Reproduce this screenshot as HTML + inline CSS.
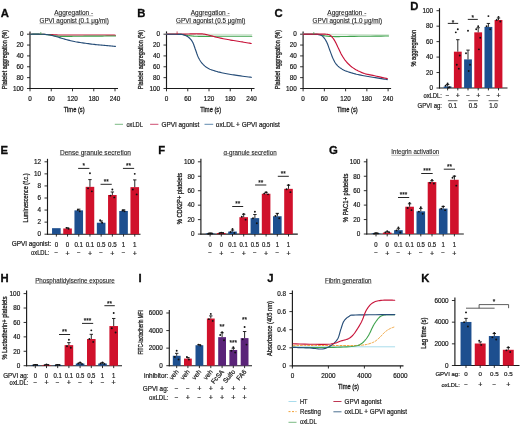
<!DOCTYPE html>
<html><head><meta charset="utf-8"><style>
html,body{margin:0;padding:0;background:#fff;}
svg{display:block;will-change:transform;}
text{font-family:"Liberation Sans", sans-serif;stroke:#1a1a1a;stroke-width:0.2px;}
</style></head><body>
<svg width="520" height="426" viewBox="0 0 520 426">
<rect x="0" y="0" width="520" height="426" fill="#fff"/>
<text x="0.73" y="17.20" font-size="11.3" text-anchor="start" font-weight="bold" fill="#0d0d0d" style="stroke-width:0.3px;stroke:#0d0d0d">A</text>
<text x="73.70" y="14.90" font-size="6.3" text-anchor="middle" textLength="39.00" lengthAdjust="spacingAndGlyphs" fill="#222" style="stroke-width:0.1px">Aggregation -</text>
<line x1="54.20" y1="15.75" x2="93.20" y2="15.75" stroke="#777" stroke-width="0.55"/>
<text x="74.20" y="22.80" font-size="6.3" text-anchor="middle" textLength="69.40" lengthAdjust="spacingAndGlyphs" fill="#222" style="stroke-width:0.1px">GPVI agonist (0.1 μg/ml)</text>
<line x1="39.50" y1="23.65" x2="108.90" y2="23.65" stroke="#777" stroke-width="0.55"/>
<line x1="30.00" y1="31.40" x2="30.00" y2="88.95" stroke="#1a1a1a" stroke-width="1.15"/>
<line x1="29.50" y1="88.50" x2="118.00" y2="88.50" stroke="#1a1a1a" stroke-width="1.15"/>
<line x1="27.00" y1="34.20" x2="30.00" y2="34.20" stroke="#1a1a1a" stroke-width="0.9"/>
<text x="23.60" y="36.47" font-size="6.35" text-anchor="end" fill="#1a1a1a">0</text>
<line x1="27.00" y1="45.06" x2="30.00" y2="45.06" stroke="#1a1a1a" stroke-width="0.9"/>
<text x="23.60" y="47.33" font-size="6.35" text-anchor="end" fill="#1a1a1a">20</text>
<line x1="27.00" y1="55.92" x2="30.00" y2="55.92" stroke="#1a1a1a" stroke-width="0.9"/>
<text x="23.60" y="58.19" font-size="6.35" text-anchor="end" fill="#1a1a1a">40</text>
<line x1="27.00" y1="66.78" x2="30.00" y2="66.78" stroke="#1a1a1a" stroke-width="0.9"/>
<text x="23.60" y="69.05" font-size="6.35" text-anchor="end" fill="#1a1a1a">60</text>
<line x1="27.00" y1="77.64" x2="30.00" y2="77.64" stroke="#1a1a1a" stroke-width="0.9"/>
<text x="23.60" y="79.91" font-size="6.35" text-anchor="end" fill="#1a1a1a">80</text>
<line x1="27.00" y1="88.50" x2="30.00" y2="88.50" stroke="#1a1a1a" stroke-width="0.9"/>
<text x="23.60" y="90.77" font-size="6.35" text-anchor="end" fill="#1a1a1a">100</text>
<line x1="30.00" y1="88.50" x2="30.00" y2="91.30" stroke="#1a1a1a" stroke-width="0.9"/>
<text x="30.00" y="100.57" font-size="6.35" text-anchor="middle" fill="#1a1a1a">0</text>
<line x1="51.25" y1="88.50" x2="51.25" y2="91.30" stroke="#1a1a1a" stroke-width="0.9"/>
<text x="51.25" y="100.57" font-size="6.35" text-anchor="middle" fill="#1a1a1a">60</text>
<line x1="72.50" y1="88.50" x2="72.50" y2="91.30" stroke="#1a1a1a" stroke-width="0.9"/>
<text x="72.50" y="100.57" font-size="6.35" text-anchor="middle" fill="#1a1a1a">120</text>
<line x1="93.75" y1="88.50" x2="93.75" y2="91.30" stroke="#1a1a1a" stroke-width="0.9"/>
<text x="93.75" y="100.57" font-size="6.35" text-anchor="middle" fill="#1a1a1a">180</text>
<line x1="115.00" y1="88.50" x2="115.00" y2="91.30" stroke="#1a1a1a" stroke-width="0.9"/>
<text x="115.00" y="100.57" font-size="6.35" text-anchor="middle" fill="#1a1a1a">240</text>
<text x="74.20" y="111.50" font-size="7.4" text-anchor="middle" textLength="20.80" lengthAdjust="spacingAndGlyphs" fill="#1a1a1a" style="stroke-width:0.3px">Time (s)</text>
<text x="6.80" y="59.60" font-size="7.2" text-anchor="middle" transform="rotate(-90 6.80 59.60)" textLength="59.40" lengthAdjust="spacingAndGlyphs" fill="#1a1a1a" style="stroke-width:0.3px">Platelet aggregation (%)</text>
<text x="137.15" y="17.30" font-size="11.3" text-anchor="start" font-weight="bold" fill="#0d0d0d" style="stroke-width:0.3px;stroke:#0d0d0d">B</text>
<text x="210.20" y="14.90" font-size="6.3" text-anchor="middle" textLength="39.00" lengthAdjust="spacingAndGlyphs" fill="#222" style="stroke-width:0.1px">Aggregation -</text>
<line x1="190.70" y1="15.75" x2="229.70" y2="15.75" stroke="#777" stroke-width="0.55"/>
<text x="210.70" y="22.80" font-size="6.3" text-anchor="middle" textLength="69.40" lengthAdjust="spacingAndGlyphs" fill="#222" style="stroke-width:0.1px">GPVI agonist (0.5 μg/ml)</text>
<line x1="176.00" y1="23.65" x2="245.40" y2="23.65" stroke="#777" stroke-width="0.55"/>
<line x1="166.50" y1="31.40" x2="166.50" y2="88.95" stroke="#1a1a1a" stroke-width="1.15"/>
<line x1="166.00" y1="88.50" x2="254.50" y2="88.50" stroke="#1a1a1a" stroke-width="1.15"/>
<line x1="163.50" y1="34.20" x2="166.50" y2="34.20" stroke="#1a1a1a" stroke-width="0.9"/>
<text x="160.10" y="36.47" font-size="6.35" text-anchor="end" fill="#1a1a1a">0</text>
<line x1="163.50" y1="45.06" x2="166.50" y2="45.06" stroke="#1a1a1a" stroke-width="0.9"/>
<text x="160.10" y="47.33" font-size="6.35" text-anchor="end" fill="#1a1a1a">20</text>
<line x1="163.50" y1="55.92" x2="166.50" y2="55.92" stroke="#1a1a1a" stroke-width="0.9"/>
<text x="160.10" y="58.19" font-size="6.35" text-anchor="end" fill="#1a1a1a">40</text>
<line x1="163.50" y1="66.78" x2="166.50" y2="66.78" stroke="#1a1a1a" stroke-width="0.9"/>
<text x="160.10" y="69.05" font-size="6.35" text-anchor="end" fill="#1a1a1a">60</text>
<line x1="163.50" y1="77.64" x2="166.50" y2="77.64" stroke="#1a1a1a" stroke-width="0.9"/>
<text x="160.10" y="79.91" font-size="6.35" text-anchor="end" fill="#1a1a1a">80</text>
<line x1="163.50" y1="88.50" x2="166.50" y2="88.50" stroke="#1a1a1a" stroke-width="0.9"/>
<text x="160.10" y="90.77" font-size="6.35" text-anchor="end" fill="#1a1a1a">100</text>
<line x1="166.50" y1="88.50" x2="166.50" y2="91.30" stroke="#1a1a1a" stroke-width="0.9"/>
<text x="166.50" y="100.57" font-size="6.35" text-anchor="middle" fill="#1a1a1a">0</text>
<line x1="187.75" y1="88.50" x2="187.75" y2="91.30" stroke="#1a1a1a" stroke-width="0.9"/>
<text x="187.75" y="100.57" font-size="6.35" text-anchor="middle" fill="#1a1a1a">60</text>
<line x1="209.00" y1="88.50" x2="209.00" y2="91.30" stroke="#1a1a1a" stroke-width="0.9"/>
<text x="209.00" y="100.57" font-size="6.35" text-anchor="middle" fill="#1a1a1a">120</text>
<line x1="230.25" y1="88.50" x2="230.25" y2="91.30" stroke="#1a1a1a" stroke-width="0.9"/>
<text x="230.25" y="100.57" font-size="6.35" text-anchor="middle" fill="#1a1a1a">180</text>
<line x1="251.50" y1="88.50" x2="251.50" y2="91.30" stroke="#1a1a1a" stroke-width="0.9"/>
<text x="251.50" y="100.57" font-size="6.35" text-anchor="middle" fill="#1a1a1a">240</text>
<text x="210.70" y="111.50" font-size="7.4" text-anchor="middle" textLength="20.80" lengthAdjust="spacingAndGlyphs" fill="#1a1a1a" style="stroke-width:0.3px">Time (s)</text>
<text x="143.30" y="59.60" font-size="7.2" text-anchor="middle" transform="rotate(-90 143.30 59.60)" textLength="59.40" lengthAdjust="spacingAndGlyphs" fill="#1a1a1a" style="stroke-width:0.3px">Platelet aggregation (%)</text>
<text x="274.60" y="17.20" font-size="11.3" text-anchor="start" font-weight="bold" fill="#0d0d0d" style="stroke-width:0.3px;stroke:#0d0d0d">C</text>
<text x="346.80" y="14.90" font-size="6.3" text-anchor="middle" textLength="39.00" lengthAdjust="spacingAndGlyphs" fill="#222" style="stroke-width:0.1px">Aggregation -</text>
<line x1="327.30" y1="15.75" x2="366.30" y2="15.75" stroke="#777" stroke-width="0.55"/>
<text x="347.30" y="22.80" font-size="6.3" text-anchor="middle" textLength="69.40" lengthAdjust="spacingAndGlyphs" fill="#222" style="stroke-width:0.1px">GPVI agonist (1.0 μg/ml)</text>
<line x1="312.60" y1="23.65" x2="382.00" y2="23.65" stroke="#777" stroke-width="0.55"/>
<line x1="303.10" y1="31.40" x2="303.10" y2="88.95" stroke="#1a1a1a" stroke-width="1.15"/>
<line x1="302.60" y1="88.50" x2="391.10" y2="88.50" stroke="#1a1a1a" stroke-width="1.15"/>
<line x1="300.10" y1="34.20" x2="303.10" y2="34.20" stroke="#1a1a1a" stroke-width="0.9"/>
<text x="296.70" y="36.47" font-size="6.35" text-anchor="end" fill="#1a1a1a">0</text>
<line x1="300.10" y1="45.06" x2="303.10" y2="45.06" stroke="#1a1a1a" stroke-width="0.9"/>
<text x="296.70" y="47.33" font-size="6.35" text-anchor="end" fill="#1a1a1a">20</text>
<line x1="300.10" y1="55.92" x2="303.10" y2="55.92" stroke="#1a1a1a" stroke-width="0.9"/>
<text x="296.70" y="58.19" font-size="6.35" text-anchor="end" fill="#1a1a1a">40</text>
<line x1="300.10" y1="66.78" x2="303.10" y2="66.78" stroke="#1a1a1a" stroke-width="0.9"/>
<text x="296.70" y="69.05" font-size="6.35" text-anchor="end" fill="#1a1a1a">60</text>
<line x1="300.10" y1="77.64" x2="303.10" y2="77.64" stroke="#1a1a1a" stroke-width="0.9"/>
<text x="296.70" y="79.91" font-size="6.35" text-anchor="end" fill="#1a1a1a">80</text>
<line x1="300.10" y1="88.50" x2="303.10" y2="88.50" stroke="#1a1a1a" stroke-width="0.9"/>
<text x="296.70" y="90.77" font-size="6.35" text-anchor="end" fill="#1a1a1a">100</text>
<line x1="303.10" y1="88.50" x2="303.10" y2="91.30" stroke="#1a1a1a" stroke-width="0.9"/>
<text x="303.10" y="100.57" font-size="6.35" text-anchor="middle" fill="#1a1a1a">0</text>
<line x1="324.35" y1="88.50" x2="324.35" y2="91.30" stroke="#1a1a1a" stroke-width="0.9"/>
<text x="324.35" y="100.57" font-size="6.35" text-anchor="middle" fill="#1a1a1a">60</text>
<line x1="345.60" y1="88.50" x2="345.60" y2="91.30" stroke="#1a1a1a" stroke-width="0.9"/>
<text x="345.60" y="100.57" font-size="6.35" text-anchor="middle" fill="#1a1a1a">120</text>
<line x1="366.85" y1="88.50" x2="366.85" y2="91.30" stroke="#1a1a1a" stroke-width="0.9"/>
<text x="366.85" y="100.57" font-size="6.35" text-anchor="middle" fill="#1a1a1a">180</text>
<line x1="388.10" y1="88.50" x2="388.10" y2="91.30" stroke="#1a1a1a" stroke-width="0.9"/>
<text x="388.10" y="100.57" font-size="6.35" text-anchor="middle" fill="#1a1a1a">240</text>
<text x="347.30" y="111.50" font-size="7.4" text-anchor="middle" textLength="20.80" lengthAdjust="spacingAndGlyphs" fill="#1a1a1a" style="stroke-width:0.3px">Time (s)</text>
<text x="279.90" y="59.60" font-size="7.2" text-anchor="middle" transform="rotate(-90 279.90 59.60)" textLength="59.40" lengthAdjust="spacingAndGlyphs" fill="#1a1a1a" style="stroke-width:0.3px">Platelet aggregation (%)</text>
<path d="M30.00,34.20 L31.43,34.22 L33.38,34.25 L35.70,34.28 L38.25,34.32 L40.90,34.36 L43.50,34.40 L45.91,34.45 L48.00,34.50 L49.73,34.56 L51.23,34.62 L52.59,34.69 L53.88,34.77 L55.18,34.84 L56.58,34.91 L58.16,34.96 L60.00,35.00 L62.12,35.02 L64.44,35.04 L66.91,35.04 L69.50,35.03 L72.15,35.02 L74.81,35.01 L77.45,35.00 L80.00,35.00 L82.53,35.00 L85.11,35.00 L87.70,34.99 L90.28,34.99 L92.83,34.99 L95.32,34.99 L97.72,34.99 L100.00,35.00 L102.26,35.02 L104.55,35.04 L106.82,35.07 L109.00,35.10 L111.02,35.13 L112.82,35.16 L114.33,35.18 L115.50,35.20" fill="none" stroke="#c8143a" stroke-width="1.15" stroke-linejoin="round" stroke-linecap="round"/>
<path d="M30.00,34.20 L30.80,34.20 L31.89,34.19 L33.18,34.17 L34.61,34.16 L36.10,34.16 L37.58,34.16 L38.97,34.17 L40.20,34.20 L41.29,34.24 L42.31,34.29 L43.29,34.35 L44.24,34.42 L45.17,34.50 L46.09,34.59 L47.03,34.69 L48.00,34.80 L48.99,34.93 L49.99,35.08 L50.99,35.24 L51.99,35.41 L52.99,35.58 L54.00,35.74 L55.00,35.88 L56.00,36.00 L56.95,36.09 L57.81,36.17 L58.65,36.23 L59.50,36.29 L60.41,36.33 L61.44,36.36 L62.62,36.38 L64.00,36.40 L65.59,36.40 L67.34,36.39 L69.24,36.36 L71.25,36.33 L73.36,36.29 L75.53,36.26 L77.75,36.22 L80.00,36.20 L82.34,36.18 L84.82,36.17 L87.40,36.16 L90.03,36.14 L92.65,36.13 L95.22,36.12 L97.69,36.11 L100.00,36.10 L102.26,36.09 L104.55,36.07 L106.82,36.06 L109.00,36.04 L111.02,36.03 L112.82,36.02 L114.33,36.01 L115.50,36.00" fill="none" stroke="#3fa34d" stroke-width="1.1" stroke-linejoin="round" stroke-linecap="round"/>
<path d="M30.00,34.20 L30.80,34.20 L31.89,34.19 L33.18,34.18 L34.61,34.17 L36.10,34.16 L37.57,34.16 L38.97,34.18 L40.20,34.20 L41.30,34.23 L42.34,34.26 L43.34,34.29 L44.31,34.34 L45.25,34.40 L46.19,34.47 L47.14,34.57 L48.10,34.70 L49.07,34.86 L50.04,35.05 L51.00,35.26 L51.96,35.49 L52.92,35.73 L53.88,35.98 L54.84,36.24 L55.80,36.50 L56.75,36.76 L57.68,37.04 L58.60,37.32 L59.53,37.61 L60.47,37.90 L61.44,38.20 L62.45,38.50 L63.50,38.80 L64.61,39.11 L65.77,39.43 L66.96,39.76 L68.18,40.09 L69.42,40.42 L70.66,40.73 L71.89,41.03 L73.10,41.30 L74.29,41.54 L75.46,41.77 L76.62,41.97 L77.78,42.16 L78.96,42.35 L80.17,42.53 L81.41,42.71 L82.70,42.90 L84.05,43.10 L85.44,43.29 L86.87,43.49 L88.33,43.68 L89.80,43.87 L91.27,44.06 L92.74,44.23 L94.20,44.40 L95.66,44.56 L97.14,44.71 L98.63,44.85 L100.12,44.99 L101.59,45.12 L103.04,45.25 L104.45,45.37 L105.80,45.50 L107.16,45.63 L108.57,45.76 L109.97,45.89 L111.32,46.02 L112.59,46.14 L113.72,46.24 L114.67,46.33 L115.40,46.40" fill="none" stroke="#264d78" stroke-width="1.15" stroke-linejoin="round" stroke-linecap="round"/>
<line x1="40.80" y1="32.00" x2="40.80" y2="34.40" stroke="#3fa34d" stroke-width="0.7"/>
<path d="M166.50,34.20 L251.80,34.60" fill="none" stroke="#d3e6d3" stroke-width="1.2" stroke-linejoin="round" stroke-linecap="round"/>
<path d="M166.50,34.20 L167.34,34.21 L168.49,34.21 L169.87,34.22 L171.38,34.23 L172.93,34.24 L174.45,34.26 L175.83,34.28 L177.00,34.30 L177.96,34.32 L178.79,34.34 L179.54,34.36 L180.22,34.38 L180.87,34.41 L181.54,34.46 L182.23,34.52 L183.00,34.60 L183.81,34.71 L184.61,34.85 L185.42,35.01 L186.25,35.18 L187.11,35.35 L188.02,35.52 L188.97,35.67 L190.00,35.80 L191.07,35.91 L192.17,36.01 L193.31,36.10 L194.50,36.18 L195.75,36.25 L197.08,36.31 L198.49,36.36 L200.00,36.40 L201.49,36.42 L202.89,36.42 L204.30,36.41 L205.83,36.39 L207.56,36.36 L209.60,36.33 L212.05,36.31 L215.00,36.30 L218.81,36.30 L223.53,36.29 L228.82,36.29 L234.34,36.29 L239.74,36.30 L244.68,36.30 L248.81,36.30 L251.80,36.30" fill="none" stroke="#3fa34d" stroke-width="1.1" stroke-linejoin="round" stroke-linecap="round"/>
<path d="M166.50,34.20 L167.80,34.19 L169.56,34.19 L171.65,34.18 L173.96,34.17 L176.38,34.16 L178.79,34.14 L181.06,34.12 L183.10,34.10 L184.98,34.07 L186.84,34.03 L188.66,33.98 L190.43,33.93 L192.12,33.88 L193.71,33.84 L195.18,33.81 L196.50,33.80 L197.65,33.80 L198.64,33.80 L199.50,33.80 L200.27,33.82 L200.97,33.84 L201.64,33.88 L202.30,33.93 L203.00,34.00 L203.67,34.08 L204.27,34.16 L204.82,34.25 L205.36,34.36 L205.92,34.48 L206.54,34.63 L207.26,34.80 L208.10,35.00 L209.07,35.24 L210.14,35.52 L211.29,35.84 L212.50,36.17 L213.76,36.51 L215.06,36.85 L216.38,37.19 L217.70,37.50 L219.05,37.80 L220.44,38.10 L221.87,38.39 L223.32,38.69 L224.80,38.98 L226.27,39.26 L227.74,39.53 L229.20,39.80 L230.65,40.06 L232.12,40.31 L233.59,40.55 L235.06,40.78 L236.53,41.01 L237.97,41.24 L239.40,41.47 L240.80,41.70 L242.24,41.94 L243.75,42.20 L245.28,42.46 L246.78,42.72 L248.18,42.96 L249.44,43.18 L250.50,43.36 L251.30,43.50" fill="none" stroke="#c8143a" stroke-width="1.15" stroke-linejoin="round" stroke-linecap="round"/>
<path d="M166.50,34.20 L167.34,34.21 L168.49,34.21 L169.86,34.22 L171.37,34.23 L172.92,34.24 L174.44,34.25 L175.83,34.27 L177.00,34.30 L177.98,34.32 L178.84,34.32 L179.63,34.32 L180.35,34.33 L181.04,34.36 L181.71,34.42 L182.39,34.53 L183.10,34.70 L183.84,34.92 L184.60,35.18 L185.35,35.49 L186.09,35.83 L186.81,36.20 L187.51,36.60 L188.18,37.04 L188.80,37.50 L189.38,37.98 L189.92,38.49 L190.44,39.03 L190.93,39.59 L191.39,40.20 L191.84,40.85 L192.27,41.55 L192.70,42.30 L193.11,43.12 L193.50,44.02 L193.86,44.98 L194.21,45.97 L194.56,46.99 L194.90,48.01 L195.24,49.02 L195.60,50.00 L195.96,50.98 L196.30,51.97 L196.65,52.97 L196.99,53.97 L197.35,54.95 L197.71,55.91 L198.09,56.83 L198.50,57.70 L198.92,58.52 L199.34,59.31 L199.77,60.06 L200.22,60.78 L200.69,61.48 L201.19,62.16 L201.72,62.84 L202.30,63.50 L202.92,64.16 L203.56,64.81 L204.25,65.46 L204.96,66.08 L205.70,66.68 L206.47,67.26 L207.27,67.80 L208.10,68.30 L208.96,68.76 L209.85,69.17 L210.76,69.55 L211.71,69.91 L212.69,70.24 L213.70,70.56 L214.73,70.88 L215.80,71.20 L216.90,71.52 L218.02,71.83 L219.18,72.12 L220.36,72.41 L221.58,72.69 L222.82,72.97 L224.10,73.24 L225.40,73.50 L226.73,73.76 L228.07,74.00 L229.45,74.24 L230.85,74.48 L232.29,74.71 L233.78,74.93 L235.31,75.17 L236.90,75.40 L238.66,75.65 L240.63,75.92 L242.72,76.20 L244.82,76.47 L246.83,76.73 L248.64,76.96 L250.17,77.15 L251.30,77.30" fill="none" stroke="#264d78" stroke-width="1.15" stroke-linejoin="round" stroke-linecap="round"/>
<line x1="177.10" y1="31.40" x2="177.10" y2="34.40" stroke="#d0112b" stroke-width="0.7"/>
<path d="M303.10,34.20 L388.50,35.00" fill="none" stroke="#d3e6d3" stroke-width="1.5" stroke-linejoin="round" stroke-linecap="round"/>
<path d="M303.10,34.20 L304.30,34.21 L305.94,34.20 L307.90,34.20 L310.05,34.20 L312.26,34.21 L314.41,34.25 L316.37,34.31 L318.00,34.40 L319.32,34.54 L320.46,34.73 L321.46,34.94 L322.37,35.17 L323.23,35.41 L324.09,35.64 L325.00,35.84 L326.00,36.00 L327.04,36.13 L328.04,36.24 L329.04,36.33 L330.06,36.41 L331.14,36.48 L332.30,36.53 L333.58,36.57 L335.00,36.60 L336.43,36.61 L337.78,36.61 L339.15,36.59 L340.66,36.56 L342.39,36.52 L344.46,36.48 L346.96,36.44 L350.00,36.40 L353.95,36.36 L358.88,36.30 L364.41,36.25 L370.19,36.19 L375.85,36.13 L381.03,36.08 L385.37,36.03 L388.50,36.00" fill="none" stroke="#3fa34d" stroke-width="1.1" stroke-linejoin="round" stroke-linecap="round"/>
<path d="M303.10,34.20 L303.89,34.21 L304.97,34.21 L306.25,34.22 L307.67,34.23 L309.13,34.24 L310.56,34.25 L311.88,34.27 L313.00,34.30 L313.96,34.33 L314.85,34.35 L315.67,34.37 L316.43,34.39 L317.15,34.43 L317.83,34.49 L318.47,34.58 L319.10,34.70 L319.68,34.83 L320.21,34.96 L320.69,35.10 L321.14,35.26 L321.57,35.47 L322.00,35.74 L322.44,36.07 L322.90,36.50 L323.39,37.02 L323.89,37.62 L324.40,38.30 L324.91,39.03 L325.41,39.81 L325.89,40.62 L326.36,41.46 L326.80,42.30 L327.20,43.16 L327.57,44.05 L327.92,44.96 L328.26,45.91 L328.59,46.89 L328.94,47.90 L329.30,48.93 L329.70,50.00 L330.13,51.14 L330.59,52.36 L331.06,53.63 L331.54,54.92 L332.04,56.19 L332.53,57.42 L333.02,58.57 L333.50,59.60 L333.95,60.51 L334.38,61.34 L334.79,62.10 L335.21,62.80 L335.66,63.47 L336.14,64.11 L336.68,64.75 L337.30,65.40 L337.99,66.06 L338.72,66.71 L339.51,67.34 L340.34,67.96 L341.21,68.55 L342.13,69.13 L343.10,69.68 L344.10,70.20 L345.15,70.69 L346.26,71.15 L347.41,71.58 L348.61,71.99 L349.84,72.39 L351.10,72.77 L352.39,73.14 L353.70,73.50 L355.05,73.85 L356.44,74.20 L357.87,74.52 L359.32,74.84 L360.80,75.14 L362.27,75.44 L363.74,75.72 L365.20,76.00 L366.65,76.27 L368.12,76.52 L369.59,76.77 L371.06,77.00 L372.53,77.23 L373.97,77.45 L375.40,77.68 L376.80,77.90 L378.24,78.13 L379.75,78.38 L381.28,78.63 L382.78,78.87 L384.18,79.10 L385.44,79.30 L386.50,79.47 L387.30,79.60" fill="none" stroke="#264d78" stroke-width="1.15" stroke-linejoin="round" stroke-linecap="round"/>
<path d="M303.10,34.20 L304.29,34.19 L305.92,34.17 L307.86,34.16 L310.00,34.14 L312.20,34.12 L314.35,34.11 L316.33,34.10 L318.00,34.10 L319.43,34.10 L320.75,34.10 L321.97,34.10 L323.09,34.11 L324.13,34.13 L325.09,34.17 L325.98,34.22 L326.80,34.30 L327.51,34.39 L328.10,34.47 L328.59,34.55 L329.01,34.66 L329.39,34.81 L329.76,35.00 L330.15,35.26 L330.60,35.60 L331.08,36.01 L331.57,36.49 L332.06,37.02 L332.55,37.60 L333.04,38.23 L333.53,38.91 L334.02,39.64 L334.50,40.40 L334.98,41.22 L335.45,42.12 L335.93,43.08 L336.40,44.07 L336.87,45.09 L337.35,46.11 L337.82,47.12 L338.30,48.10 L338.78,49.07 L339.25,50.05 L339.72,51.03 L340.19,52.01 L340.67,52.99 L341.16,53.95 L341.67,54.89 L342.20,55.80 L342.74,56.69 L343.29,57.57 L343.85,58.43 L344.43,59.27 L345.02,60.10 L345.65,60.91 L346.30,61.71 L347.00,62.50 L347.73,63.27 L348.47,64.04 L349.25,64.78 L350.05,65.52 L350.89,66.24 L351.78,66.94 L352.71,67.63 L353.70,68.30 L354.76,68.96 L355.90,69.63 L357.09,70.28 L358.32,70.92 L359.57,71.53 L360.83,72.10 L362.08,72.63 L363.30,73.10 L364.47,73.50 L365.59,73.83 L366.69,74.11 L367.80,74.35 L368.95,74.58 L370.16,74.82 L371.47,75.09 L372.90,75.40 L374.57,75.78 L376.50,76.21 L378.58,76.67 L380.70,77.14 L382.74,77.59 L384.60,78.00 L386.16,78.35 L387.30,78.60" fill="none" stroke="#c8143a" stroke-width="1.15" stroke-linejoin="round" stroke-linecap="round"/>
<line x1="313.80" y1="32.00" x2="313.80" y2="34.40" stroke="#3fa34d" stroke-width="0.7"/>
<line x1="114.80" y1="124.30" x2="123.00" y2="124.30" stroke="#6db377" stroke-width="0.9"/>
<text x="126.40" y="126.56" font-size="6.6" text-anchor="start" textLength="16.40" lengthAdjust="spacingAndGlyphs" fill="#1a1a1a">oxLDL</text>
<line x1="150.10" y1="124.30" x2="158.40" y2="124.30" stroke="#c93a62" stroke-width="0.9"/>
<text x="161.40" y="126.56" font-size="6.6" text-anchor="start" textLength="37.80" lengthAdjust="spacingAndGlyphs" fill="#1a1a1a">GPVI agonist</text>
<line x1="204.50" y1="124.30" x2="213.20" y2="124.30" stroke="#4f7ea6" stroke-width="0.9"/>
<text x="215.80" y="126.56" font-size="6.6" text-anchor="start" textLength="64.00" lengthAdjust="spacingAndGlyphs" fill="#1a1a1a">oxLDL + GPVI agonist</text>
<text x="410.25" y="9.50" font-size="11.3" text-anchor="start" font-weight="bold" fill="#0d0d0d" style="stroke-width:0.3px;stroke:#0d0d0d">D</text>
<line x1="439.50" y1="8.20" x2="439.50" y2="88.45" stroke="#1a1a1a" stroke-width="1.15"/>
<line x1="439.00" y1="88.00" x2="507.50" y2="88.00" stroke="#1a1a1a" stroke-width="1.15"/>
<line x1="436.50" y1="88.00" x2="439.50" y2="88.00" stroke="#1a1a1a" stroke-width="0.9"/>
<text x="433.10" y="90.27" font-size="6.35" text-anchor="end" fill="#1a1a1a">0</text>
<line x1="436.50" y1="72.54" x2="439.50" y2="72.54" stroke="#1a1a1a" stroke-width="0.9"/>
<text x="433.10" y="74.81" font-size="6.35" text-anchor="end" fill="#1a1a1a">20</text>
<line x1="436.50" y1="57.08" x2="439.50" y2="57.08" stroke="#1a1a1a" stroke-width="0.9"/>
<text x="433.10" y="59.35" font-size="6.35" text-anchor="end" fill="#1a1a1a">40</text>
<line x1="436.50" y1="41.62" x2="439.50" y2="41.62" stroke="#1a1a1a" stroke-width="0.9"/>
<text x="433.10" y="43.89" font-size="6.35" text-anchor="end" fill="#1a1a1a">60</text>
<line x1="436.50" y1="26.16" x2="439.50" y2="26.16" stroke="#1a1a1a" stroke-width="0.9"/>
<text x="433.10" y="28.43" font-size="6.35" text-anchor="end" fill="#1a1a1a">80</text>
<line x1="436.50" y1="10.70" x2="439.50" y2="10.70" stroke="#1a1a1a" stroke-width="0.9"/>
<text x="433.10" y="12.97" font-size="6.35" text-anchor="end" fill="#1a1a1a">100</text>
<text x="416.00" y="48.25" font-size="7.2" text-anchor="middle" transform="rotate(-90 416.00 48.25)" textLength="36.70" lengthAdjust="spacingAndGlyphs" fill="#1a1a1a" style="stroke-width:0.3px">% aggregation</text>
<rect x="443.70" y="86.45" width="7.80" height="1.55" fill="#1d4f8f"/>
<line x1="447.60" y1="86.45" x2="447.60" y2="84.52" stroke="#111" stroke-width="0.9"/>
<line x1="445.90" y1="84.52" x2="449.30" y2="84.52" stroke="#111" stroke-width="0.9"/>
<line x1="447.60" y1="88.00" x2="447.60" y2="90.40" stroke="#1a1a1a" stroke-width="0.9"/>
<rect x="453.90" y="51.67" width="7.80" height="36.33" fill="#d0112b"/>
<line x1="457.80" y1="51.67" x2="457.80" y2="39.69" stroke="#111" stroke-width="0.9"/>
<line x1="456.10" y1="39.69" x2="459.50" y2="39.69" stroke="#111" stroke-width="0.9"/>
<line x1="457.80" y1="88.00" x2="457.80" y2="90.40" stroke="#1a1a1a" stroke-width="0.9"/>
<rect x="464.10" y="59.40" width="7.80" height="28.60" fill="#1d4f8f"/>
<line x1="468.00" y1="59.40" x2="468.00" y2="50.12" stroke="#111" stroke-width="0.9"/>
<line x1="466.30" y1="50.12" x2="469.70" y2="50.12" stroke="#111" stroke-width="0.9"/>
<line x1="468.00" y1="88.00" x2="468.00" y2="90.40" stroke="#1a1a1a" stroke-width="0.9"/>
<rect x="474.30" y="32.34" width="7.80" height="55.66" fill="#d0112b"/>
<line x1="478.20" y1="32.34" x2="478.20" y2="27.71" stroke="#111" stroke-width="0.9"/>
<line x1="476.50" y1="27.71" x2="479.90" y2="27.71" stroke="#111" stroke-width="0.9"/>
<line x1="478.20" y1="88.00" x2="478.20" y2="90.40" stroke="#1a1a1a" stroke-width="0.9"/>
<rect x="484.50" y="26.93" width="7.80" height="61.07" fill="#1d4f8f"/>
<line x1="488.40" y1="26.93" x2="488.40" y2="23.45" stroke="#111" stroke-width="0.9"/>
<line x1="486.70" y1="23.45" x2="490.10" y2="23.45" stroke="#111" stroke-width="0.9"/>
<line x1="488.40" y1="88.00" x2="488.40" y2="90.40" stroke="#1a1a1a" stroke-width="0.9"/>
<rect x="494.60" y="19.98" width="7.80" height="68.02" fill="#d0112b"/>
<line x1="498.50" y1="19.98" x2="498.50" y2="18.04" stroke="#111" stroke-width="0.9"/>
<line x1="496.80" y1="18.04" x2="500.20" y2="18.04" stroke="#111" stroke-width="0.9"/>
<line x1="498.50" y1="88.00" x2="498.50" y2="90.40" stroke="#1a1a1a" stroke-width="0.9"/>
<circle cx="447.60" cy="83.36" r="0.95" fill="#111"/>
<circle cx="445.60" cy="85.68" r="0.95" fill="#111"/>
<circle cx="449.60" cy="87.23" r="0.95" fill="#111"/>
<circle cx="448.30" cy="87.61" r="0.95" fill="#111"/>
<circle cx="457.80" cy="29.25" r="0.95" fill="#111"/>
<circle cx="455.80" cy="32.34" r="0.95" fill="#111"/>
<circle cx="459.80" cy="55.53" r="0.95" fill="#111"/>
<circle cx="456.80" cy="64.81" r="0.95" fill="#111"/>
<circle cx="458.80" cy="68.67" r="0.95" fill="#111"/>
<circle cx="468.00" cy="30.80" r="0.95" fill="#111"/>
<circle cx="466.00" cy="53.21" r="0.95" fill="#111"/>
<circle cx="470.00" cy="64.81" r="0.95" fill="#111"/>
<circle cx="468.70" cy="70.99" r="0.95" fill="#111"/>
<circle cx="478.20" cy="26.16" r="0.95" fill="#111"/>
<circle cx="476.20" cy="29.25" r="0.95" fill="#111"/>
<circle cx="480.20" cy="37.75" r="0.95" fill="#111"/>
<circle cx="478.90" cy="49.35" r="0.95" fill="#111"/>
<circle cx="488.40" cy="16.11" r="0.95" fill="#111"/>
<circle cx="486.60" cy="26.16" r="0.95" fill="#111"/>
<circle cx="490.20" cy="29.25" r="0.95" fill="#111"/>
<circle cx="498.50" cy="16.88" r="0.95" fill="#111"/>
<circle cx="496.70" cy="19.98" r="0.95" fill="#111"/>
<circle cx="500.30" cy="21.52" r="0.95" fill="#111"/>
<line x1="447.80" y1="23.40" x2="458.20" y2="23.40" stroke="#1a1a1a" stroke-width="0.95"/>
<text x="453.00" y="24.50" font-size="6.4" text-anchor="middle" fill="#111" style="stroke-width:0.2px">*</text>
<line x1="467.80" y1="19.40" x2="477.80" y2="19.40" stroke="#1a1a1a" stroke-width="0.95"/>
<text x="472.80" y="20.20" font-size="6.4" text-anchor="middle" fill="#111" style="stroke-width:0.2px">*</text>
<text x="442.00" y="97.50" font-size="6.6" text-anchor="end" textLength="18.60" lengthAdjust="spacingAndGlyphs" fill="#1a1a1a">oxLDL:</text>
<text x="447.60" y="97.60" font-size="6.3" text-anchor="middle" fill="#1a1a1a">−</text>
<text x="457.80" y="97.85" font-size="7.056" text-anchor="middle" fill="#1a1a1a">+</text>
<text x="468.00" y="97.60" font-size="6.3" text-anchor="middle" fill="#1a1a1a">−</text>
<text x="478.20" y="97.85" font-size="7.056" text-anchor="middle" fill="#1a1a1a">+</text>
<text x="488.40" y="97.60" font-size="6.3" text-anchor="middle" fill="#1a1a1a">−</text>
<text x="498.50" y="97.85" font-size="7.056" text-anchor="middle" fill="#1a1a1a">+</text>
<text x="442.00" y="107.50" font-size="6.6" text-anchor="end" textLength="24.40" lengthAdjust="spacingAndGlyphs" fill="#1a1a1a">GPVI ag:</text>
<line x1="447.90" y1="100.70" x2="457.50" y2="100.70" stroke="#555" stroke-width="0.9"/>
<text x="452.70" y="107.60" font-size="6.6" text-anchor="middle" textLength="8.53" lengthAdjust="spacingAndGlyphs" fill="#1a1a1a">0.1</text>
<line x1="468.30" y1="100.70" x2="477.90" y2="100.70" stroke="#555" stroke-width="0.9"/>
<text x="473.10" y="107.60" font-size="6.6" text-anchor="middle" textLength="8.53" lengthAdjust="spacingAndGlyphs" fill="#1a1a1a">0.5</text>
<line x1="488.65" y1="100.70" x2="498.25" y2="100.70" stroke="#555" stroke-width="0.9"/>
<text x="493.45" y="107.60" font-size="6.6" text-anchor="middle" textLength="8.53" lengthAdjust="spacingAndGlyphs" fill="#1a1a1a">1.0</text>
<text x="0.55" y="153.80" font-size="11.3" text-anchor="start" font-weight="bold" fill="#0d0d0d" style="stroke-width:0.3px;stroke:#0d0d0d">E</text>
<text x="95.45" y="154.50" font-size="6.3" text-anchor="middle" textLength="71.10" lengthAdjust="spacingAndGlyphs" fill="#222" style="stroke-width:0.1px">Dense granule secretion</text>
<line x1="59.90" y1="155.35" x2="131.00" y2="155.35" stroke="#777" stroke-width="0.55"/>
<line x1="47.50" y1="158.80" x2="47.50" y2="234.65" stroke="#1a1a1a" stroke-width="1.15"/>
<line x1="47.00" y1="234.20" x2="140.50" y2="234.20" stroke="#1a1a1a" stroke-width="1.15"/>
<line x1="44.50" y1="234.20" x2="47.50" y2="234.20" stroke="#1a1a1a" stroke-width="0.9"/>
<text x="41.10" y="236.47" font-size="6.35" text-anchor="end" fill="#1a1a1a">0</text>
<line x1="44.50" y1="222.13" x2="47.50" y2="222.13" stroke="#1a1a1a" stroke-width="0.9"/>
<text x="41.10" y="224.41" font-size="6.35" text-anchor="end" fill="#1a1a1a">2</text>
<line x1="44.50" y1="210.07" x2="47.50" y2="210.07" stroke="#1a1a1a" stroke-width="0.9"/>
<text x="41.10" y="212.34" font-size="6.35" text-anchor="end" fill="#1a1a1a">4</text>
<line x1="44.50" y1="198.00" x2="47.50" y2="198.00" stroke="#1a1a1a" stroke-width="0.9"/>
<text x="41.10" y="200.27" font-size="6.35" text-anchor="end" fill="#1a1a1a">6</text>
<line x1="44.50" y1="185.93" x2="47.50" y2="185.93" stroke="#1a1a1a" stroke-width="0.9"/>
<text x="41.10" y="188.21" font-size="6.35" text-anchor="end" fill="#1a1a1a">8</text>
<line x1="44.50" y1="173.87" x2="47.50" y2="173.87" stroke="#1a1a1a" stroke-width="0.9"/>
<text x="41.10" y="176.14" font-size="6.35" text-anchor="end" fill="#1a1a1a">10</text>
<line x1="44.50" y1="161.80" x2="47.50" y2="161.80" stroke="#1a1a1a" stroke-width="0.9"/>
<text x="41.10" y="164.07" font-size="6.35" text-anchor="end" fill="#1a1a1a">12</text>
<rect x="52.05" y="228.17" width="8.60" height="6.03" fill="#1d4f8f"/>
<line x1="56.35" y1="234.20" x2="56.35" y2="236.60" stroke="#1a1a1a" stroke-width="0.9"/>
<rect x="63.25" y="228.47" width="8.60" height="5.73" fill="#d0112b"/>
<line x1="67.55" y1="228.47" x2="67.55" y2="227.86" stroke="#111" stroke-width="0.9"/>
<line x1="65.85" y1="227.86" x2="69.25" y2="227.86" stroke="#111" stroke-width="0.9"/>
<line x1="67.55" y1="234.20" x2="67.55" y2="236.60" stroke="#1a1a1a" stroke-width="0.9"/>
<circle cx="66.55" cy="227.86" r="0.95" fill="#111"/>
<circle cx="68.55" cy="228.77" r="0.95" fill="#111"/>
<rect x="74.45" y="210.37" width="8.60" height="23.83" fill="#1d4f8f"/>
<line x1="78.75" y1="210.37" x2="78.75" y2="209.16" stroke="#111" stroke-width="0.9"/>
<line x1="77.05" y1="209.16" x2="80.45" y2="209.16" stroke="#111" stroke-width="0.9"/>
<line x1="78.75" y1="234.20" x2="78.75" y2="236.60" stroke="#1a1a1a" stroke-width="0.9"/>
<circle cx="77.75" cy="210.07" r="0.95" fill="#111"/>
<circle cx="79.75" cy="211.27" r="0.95" fill="#111"/>
<rect x="85.65" y="186.84" width="8.60" height="47.36" fill="#d0112b"/>
<line x1="89.95" y1="186.84" x2="89.95" y2="179.60" stroke="#111" stroke-width="0.9"/>
<line x1="88.25" y1="179.60" x2="91.65" y2="179.60" stroke="#111" stroke-width="0.9"/>
<line x1="89.95" y1="234.20" x2="89.95" y2="236.60" stroke="#1a1a1a" stroke-width="0.9"/>
<circle cx="89.95" cy="173.26" r="0.95" fill="#111"/>
<circle cx="88.05" cy="188.35" r="0.95" fill="#111"/>
<circle cx="91.85" cy="191.36" r="0.95" fill="#111"/>
<rect x="96.85" y="222.74" width="8.60" height="11.46" fill="#1d4f8f"/>
<line x1="101.15" y1="222.74" x2="101.15" y2="220.93" stroke="#111" stroke-width="0.9"/>
<line x1="99.45" y1="220.93" x2="102.85" y2="220.93" stroke="#111" stroke-width="0.9"/>
<line x1="101.15" y1="234.20" x2="101.15" y2="236.60" stroke="#1a1a1a" stroke-width="0.9"/>
<circle cx="100.15" cy="220.32" r="0.95" fill="#111"/>
<circle cx="102.15" cy="222.74" r="0.95" fill="#111"/>
<rect x="108.05" y="194.98" width="8.60" height="39.22" fill="#d0112b"/>
<line x1="112.35" y1="194.98" x2="112.35" y2="191.97" stroke="#111" stroke-width="0.9"/>
<line x1="110.65" y1="191.97" x2="114.05" y2="191.97" stroke="#111" stroke-width="0.9"/>
<line x1="112.35" y1="234.20" x2="112.35" y2="236.60" stroke="#1a1a1a" stroke-width="0.9"/>
<circle cx="112.35" cy="189.55" r="0.95" fill="#111"/>
<circle cx="110.45" cy="195.59" r="0.95" fill="#111"/>
<circle cx="114.25" cy="197.40" r="0.95" fill="#111"/>
<rect x="119.25" y="210.97" width="8.60" height="23.23" fill="#1d4f8f"/>
<line x1="123.55" y1="210.97" x2="123.55" y2="209.76" stroke="#111" stroke-width="0.9"/>
<line x1="121.85" y1="209.76" x2="125.25" y2="209.76" stroke="#111" stroke-width="0.9"/>
<line x1="123.55" y1="234.20" x2="123.55" y2="236.60" stroke="#1a1a1a" stroke-width="0.9"/>
<circle cx="122.55" cy="210.67" r="0.95" fill="#111"/>
<circle cx="124.55" cy="211.27" r="0.95" fill="#111"/>
<rect x="130.45" y="187.14" width="8.60" height="47.06" fill="#d0112b"/>
<line x1="134.75" y1="187.14" x2="134.75" y2="179.90" stroke="#111" stroke-width="0.9"/>
<line x1="133.05" y1="179.90" x2="136.45" y2="179.90" stroke="#111" stroke-width="0.9"/>
<line x1="134.75" y1="234.20" x2="134.75" y2="236.60" stroke="#1a1a1a" stroke-width="0.9"/>
<circle cx="134.75" cy="173.87" r="0.95" fill="#111"/>
<circle cx="132.85" cy="189.55" r="0.95" fill="#111"/>
<circle cx="136.65" cy="194.38" r="0.95" fill="#111"/>
<line x1="78.15" y1="168.40" x2="89.35" y2="168.40" stroke="#1a1a1a" stroke-width="0.95"/>
<text x="83.75" y="168.20" font-size="6.4" text-anchor="middle" fill="#111" style="stroke-width:0.2px">*</text>
<line x1="100.55" y1="184.30" x2="111.75" y2="184.30" stroke="#1a1a1a" stroke-width="0.95"/>
<text x="106.15" y="184.10" font-size="6.4" text-anchor="middle" fill="#111" style="stroke-width:0.2px">**</text>
<line x1="122.95" y1="168.40" x2="134.15" y2="168.40" stroke="#1a1a1a" stroke-width="0.95"/>
<text x="128.55" y="168.20" font-size="6.4" text-anchor="middle" fill="#111" style="stroke-width:0.2px">**</text>
<text x="51.30" y="246.20" font-size="6.3" text-anchor="end" textLength="39.60" lengthAdjust="spacingAndGlyphs" fill="#1a1a1a">GPVI agonist:</text>
<text x="49.40" y="254.70" font-size="6.3" text-anchor="end" textLength="18.40" lengthAdjust="spacingAndGlyphs" fill="#1a1a1a">oxLDL:</text>
<text x="56.35" y="246.60" font-size="6.4" text-anchor="middle" textLength="3.45" lengthAdjust="spacingAndGlyphs" fill="#1a1a1a">0</text>
<text x="56.35" y="255.40" font-size="6.3" text-anchor="middle" fill="#1a1a1a">−</text>
<text x="67.55" y="246.60" font-size="6.4" text-anchor="middle" textLength="3.45" lengthAdjust="spacingAndGlyphs" fill="#1a1a1a">0</text>
<text x="67.55" y="255.65" font-size="7.056" text-anchor="middle" fill="#1a1a1a">+</text>
<text x="78.75" y="246.60" font-size="6.4" text-anchor="middle" textLength="8.63" lengthAdjust="spacingAndGlyphs" fill="#1a1a1a">0.1</text>
<text x="78.75" y="255.40" font-size="6.3" text-anchor="middle" fill="#1a1a1a">−</text>
<text x="89.95" y="246.60" font-size="6.4" text-anchor="middle" textLength="8.63" lengthAdjust="spacingAndGlyphs" fill="#1a1a1a">0.1</text>
<text x="89.95" y="255.65" font-size="7.056" text-anchor="middle" fill="#1a1a1a">+</text>
<text x="101.15" y="246.60" font-size="6.4" text-anchor="middle" textLength="8.63" lengthAdjust="spacingAndGlyphs" fill="#1a1a1a">0.5</text>
<text x="101.15" y="255.40" font-size="6.3" text-anchor="middle" fill="#1a1a1a">−</text>
<text x="112.35" y="246.60" font-size="6.4" text-anchor="middle" textLength="8.63" lengthAdjust="spacingAndGlyphs" fill="#1a1a1a">0.5</text>
<text x="112.35" y="255.65" font-size="7.056" text-anchor="middle" fill="#1a1a1a">+</text>
<text x="123.55" y="246.60" font-size="6.4" text-anchor="middle" textLength="3.45" lengthAdjust="spacingAndGlyphs" fill="#1a1a1a">1</text>
<text x="123.55" y="255.40" font-size="6.3" text-anchor="middle" fill="#1a1a1a">−</text>
<text x="134.75" y="246.60" font-size="6.4" text-anchor="middle" textLength="3.45" lengthAdjust="spacingAndGlyphs" fill="#1a1a1a">1</text>
<text x="134.75" y="255.65" font-size="7.056" text-anchor="middle" fill="#1a1a1a">+</text>
<text x="27.70" y="197.90" font-size="7.2" text-anchor="middle" transform="rotate(-90 27.70 197.90)" textLength="49.00" lengthAdjust="spacingAndGlyphs" fill="#1a1a1a" style="stroke-width:0.3px">Luminescence (f.c.)</text>
<text x="158.25" y="153.70" font-size="11.3" text-anchor="start" font-weight="bold" fill="#0d0d0d" style="stroke-width:0.3px;stroke:#0d0d0d">F</text>
<text x="250.00" y="154.50" font-size="6.3" text-anchor="middle" textLength="53.20" lengthAdjust="spacingAndGlyphs" fill="#222" style="stroke-width:0.1px">α-granule secretion</text>
<line x1="223.40" y1="155.35" x2="276.60" y2="155.35" stroke="#777" stroke-width="0.55"/>
<line x1="200.90" y1="158.80" x2="200.90" y2="234.55" stroke="#1a1a1a" stroke-width="1.15"/>
<line x1="200.40" y1="234.10" x2="297.80" y2="234.10" stroke="#1a1a1a" stroke-width="1.15"/>
<line x1="197.90" y1="234.10" x2="200.90" y2="234.10" stroke="#1a1a1a" stroke-width="0.9"/>
<text x="194.50" y="236.37" font-size="6.35" text-anchor="end" fill="#1a1a1a">0</text>
<line x1="197.90" y1="219.64" x2="200.90" y2="219.64" stroke="#1a1a1a" stroke-width="0.9"/>
<text x="194.50" y="221.91" font-size="6.35" text-anchor="end" fill="#1a1a1a">20</text>
<line x1="197.90" y1="205.18" x2="200.90" y2="205.18" stroke="#1a1a1a" stroke-width="0.9"/>
<text x="194.50" y="207.45" font-size="6.35" text-anchor="end" fill="#1a1a1a">40</text>
<line x1="197.90" y1="190.72" x2="200.90" y2="190.72" stroke="#1a1a1a" stroke-width="0.9"/>
<text x="194.50" y="192.99" font-size="6.35" text-anchor="end" fill="#1a1a1a">60</text>
<line x1="197.90" y1="176.26" x2="200.90" y2="176.26" stroke="#1a1a1a" stroke-width="0.9"/>
<text x="194.50" y="178.53" font-size="6.35" text-anchor="end" fill="#1a1a1a">80</text>
<line x1="197.90" y1="161.80" x2="200.90" y2="161.80" stroke="#1a1a1a" stroke-width="0.9"/>
<text x="194.50" y="164.07" font-size="6.35" text-anchor="end" fill="#1a1a1a">100</text>
<rect x="205.80" y="233.38" width="8.60" height="0.72" fill="#1d4f8f"/>
<line x1="210.10" y1="233.38" x2="210.10" y2="233.02" stroke="#111" stroke-width="0.9"/>
<line x1="208.40" y1="233.02" x2="211.80" y2="233.02" stroke="#111" stroke-width="0.9"/>
<line x1="210.10" y1="234.10" x2="210.10" y2="236.50" stroke="#1a1a1a" stroke-width="0.9"/>
<circle cx="210.10" cy="233.38" r="0.95" fill="#111"/>
<circle cx="208.20" cy="233.74" r="0.95" fill="#111"/>
<circle cx="212.00" cy="233.52" r="0.95" fill="#111"/>
<rect x="217.00" y="233.02" width="8.60" height="1.08" fill="#d0112b"/>
<line x1="221.30" y1="233.02" x2="221.30" y2="232.65" stroke="#111" stroke-width="0.9"/>
<line x1="219.60" y1="232.65" x2="223.00" y2="232.65" stroke="#111" stroke-width="0.9"/>
<line x1="221.30" y1="234.10" x2="221.30" y2="236.50" stroke="#1a1a1a" stroke-width="0.9"/>
<circle cx="221.30" cy="232.65" r="0.95" fill="#111"/>
<circle cx="219.40" cy="233.23" r="0.95" fill="#111"/>
<circle cx="223.20" cy="232.94" r="0.95" fill="#111"/>
<rect x="228.20" y="231.57" width="8.60" height="2.53" fill="#1d4f8f"/>
<line x1="232.50" y1="231.57" x2="232.50" y2="230.12" stroke="#111" stroke-width="0.9"/>
<line x1="230.80" y1="230.12" x2="234.20" y2="230.12" stroke="#111" stroke-width="0.9"/>
<line x1="232.50" y1="234.10" x2="232.50" y2="236.50" stroke="#1a1a1a" stroke-width="0.9"/>
<circle cx="232.50" cy="229.04" r="0.95" fill="#111"/>
<circle cx="230.60" cy="231.93" r="0.95" fill="#111"/>
<circle cx="234.40" cy="233.02" r="0.95" fill="#111"/>
<rect x="239.40" y="217.18" width="8.60" height="16.92" fill="#d0112b"/>
<line x1="243.70" y1="217.18" x2="243.70" y2="214.29" stroke="#111" stroke-width="0.9"/>
<line x1="242.00" y1="214.29" x2="245.40" y2="214.29" stroke="#111" stroke-width="0.9"/>
<line x1="243.70" y1="234.10" x2="243.70" y2="236.50" stroke="#1a1a1a" stroke-width="0.9"/>
<circle cx="243.70" cy="213.86" r="0.95" fill="#111"/>
<circle cx="241.80" cy="216.75" r="0.95" fill="#111"/>
<circle cx="245.60" cy="219.64" r="0.95" fill="#111"/>
<rect x="250.60" y="218.12" width="8.60" height="15.98" fill="#1d4f8f"/>
<line x1="254.90" y1="218.12" x2="254.90" y2="214.51" stroke="#111" stroke-width="0.9"/>
<line x1="253.20" y1="214.51" x2="256.60" y2="214.51" stroke="#111" stroke-width="0.9"/>
<line x1="254.90" y1="234.10" x2="254.90" y2="236.50" stroke="#1a1a1a" stroke-width="0.9"/>
<circle cx="254.90" cy="211.69" r="0.95" fill="#111"/>
<circle cx="253.00" cy="218.19" r="0.95" fill="#111"/>
<circle cx="256.80" cy="223.25" r="0.95" fill="#111"/>
<rect x="261.80" y="193.76" width="8.60" height="40.34" fill="#d0112b"/>
<line x1="266.10" y1="193.76" x2="266.10" y2="192.31" stroke="#111" stroke-width="0.9"/>
<line x1="264.40" y1="192.31" x2="267.80" y2="192.31" stroke="#111" stroke-width="0.9"/>
<line x1="266.10" y1="234.10" x2="266.10" y2="236.50" stroke="#1a1a1a" stroke-width="0.9"/>
<circle cx="266.10" cy="192.17" r="0.95" fill="#111"/>
<circle cx="264.20" cy="193.61" r="0.95" fill="#111"/>
<circle cx="268.00" cy="194.34" r="0.95" fill="#111"/>
<rect x="273.00" y="216.24" width="8.60" height="17.86" fill="#1d4f8f"/>
<line x1="277.30" y1="216.24" x2="277.30" y2="213.35" stroke="#111" stroke-width="0.9"/>
<line x1="275.60" y1="213.35" x2="279.00" y2="213.35" stroke="#111" stroke-width="0.9"/>
<line x1="277.30" y1="234.10" x2="277.30" y2="236.50" stroke="#1a1a1a" stroke-width="0.9"/>
<circle cx="277.30" cy="213.86" r="0.95" fill="#111"/>
<circle cx="275.40" cy="216.03" r="0.95" fill="#111"/>
<circle cx="279.20" cy="218.19" r="0.95" fill="#111"/>
<rect x="284.20" y="188.84" width="8.60" height="45.26" fill="#d0112b"/>
<line x1="288.50" y1="188.84" x2="288.50" y2="185.23" stroke="#111" stroke-width="0.9"/>
<line x1="286.80" y1="185.23" x2="290.20" y2="185.23" stroke="#111" stroke-width="0.9"/>
<line x1="288.50" y1="234.10" x2="288.50" y2="236.50" stroke="#1a1a1a" stroke-width="0.9"/>
<circle cx="288.50" cy="184.94" r="0.95" fill="#111"/>
<circle cx="286.60" cy="189.27" r="0.95" fill="#111"/>
<circle cx="290.40" cy="192.17" r="0.95" fill="#111"/>
<line x1="232.20" y1="206.50" x2="243.20" y2="206.50" stroke="#1a1a1a" stroke-width="0.95"/>
<text x="237.70" y="206.30" font-size="6.4" text-anchor="middle" fill="#111" style="stroke-width:0.2px">**</text>
<line x1="255.10" y1="185.00" x2="266.30" y2="185.00" stroke="#1a1a1a" stroke-width="0.95"/>
<text x="260.70" y="184.80" font-size="6.4" text-anchor="middle" fill="#111" style="stroke-width:0.2px">**</text>
<line x1="277.80" y1="176.30" x2="288.80" y2="176.30" stroke="#1a1a1a" stroke-width="0.95"/>
<text x="283.30" y="176.10" font-size="6.4" text-anchor="middle" fill="#111" style="stroke-width:0.2px">**</text>
<text x="210.10" y="246.60" font-size="6.5" text-anchor="middle" textLength="3.33" lengthAdjust="spacingAndGlyphs" fill="#1a1a1a">0</text>
<text x="210.10" y="255.40" font-size="6.3" text-anchor="middle" fill="#1a1a1a">−</text>
<text x="221.30" y="246.60" font-size="6.5" text-anchor="middle" textLength="3.33" lengthAdjust="spacingAndGlyphs" fill="#1a1a1a">0</text>
<text x="221.30" y="255.65" font-size="7.056" text-anchor="middle" fill="#1a1a1a">+</text>
<text x="232.50" y="246.60" font-size="6.5" text-anchor="middle" textLength="8.31" lengthAdjust="spacingAndGlyphs" fill="#1a1a1a">0.1</text>
<text x="232.50" y="255.40" font-size="6.3" text-anchor="middle" fill="#1a1a1a">−</text>
<text x="243.70" y="246.60" font-size="6.5" text-anchor="middle" textLength="8.31" lengthAdjust="spacingAndGlyphs" fill="#1a1a1a">0.1</text>
<text x="243.70" y="255.65" font-size="7.056" text-anchor="middle" fill="#1a1a1a">+</text>
<text x="254.90" y="246.60" font-size="6.5" text-anchor="middle" textLength="8.31" lengthAdjust="spacingAndGlyphs" fill="#1a1a1a">0.5</text>
<text x="254.90" y="255.40" font-size="6.3" text-anchor="middle" fill="#1a1a1a">−</text>
<text x="266.10" y="246.60" font-size="6.5" text-anchor="middle" textLength="8.31" lengthAdjust="spacingAndGlyphs" fill="#1a1a1a">0.5</text>
<text x="266.10" y="255.65" font-size="7.056" text-anchor="middle" fill="#1a1a1a">+</text>
<text x="277.30" y="246.60" font-size="6.5" text-anchor="middle" textLength="3.33" lengthAdjust="spacingAndGlyphs" fill="#1a1a1a">1</text>
<text x="277.30" y="255.40" font-size="6.3" text-anchor="middle" fill="#1a1a1a">−</text>
<text x="288.50" y="246.60" font-size="6.5" text-anchor="middle" textLength="3.33" lengthAdjust="spacingAndGlyphs" fill="#1a1a1a">1</text>
<text x="288.50" y="255.65" font-size="7.056" text-anchor="middle" fill="#1a1a1a">+</text>
<text x="182.40" y="198.55" font-size="7.2" text-anchor="middle" transform="rotate(-90 182.40 198.55)" textLength="51.50" lengthAdjust="spacingAndGlyphs" fill="#1a1a1a" style="stroke-width:0.3px">% CD62P+ platelets</text>
<text x="329.04" y="153.60" font-size="11.3" text-anchor="start" font-weight="bold" fill="#0d0d0d" style="stroke-width:0.3px;stroke:#0d0d0d">G</text>
<text x="415.25" y="154.40" font-size="6.3" text-anchor="middle" textLength="47.90" lengthAdjust="spacingAndGlyphs" fill="#222" style="stroke-width:0.1px">Integrin activation</text>
<line x1="391.30" y1="155.25" x2="439.20" y2="155.25" stroke="#777" stroke-width="0.55"/>
<line x1="366.80" y1="158.80" x2="366.80" y2="234.45" stroke="#1a1a1a" stroke-width="1.15"/>
<line x1="366.30" y1="234.00" x2="463.80" y2="234.00" stroke="#1a1a1a" stroke-width="1.15"/>
<line x1="363.80" y1="234.00" x2="366.80" y2="234.00" stroke="#1a1a1a" stroke-width="0.9"/>
<text x="360.40" y="236.27" font-size="6.35" text-anchor="end" fill="#1a1a1a">0</text>
<line x1="363.80" y1="219.56" x2="366.80" y2="219.56" stroke="#1a1a1a" stroke-width="0.9"/>
<text x="360.40" y="221.83" font-size="6.35" text-anchor="end" fill="#1a1a1a">20</text>
<line x1="363.80" y1="205.12" x2="366.80" y2="205.12" stroke="#1a1a1a" stroke-width="0.9"/>
<text x="360.40" y="207.39" font-size="6.35" text-anchor="end" fill="#1a1a1a">40</text>
<line x1="363.80" y1="190.68" x2="366.80" y2="190.68" stroke="#1a1a1a" stroke-width="0.9"/>
<text x="360.40" y="192.95" font-size="6.35" text-anchor="end" fill="#1a1a1a">60</text>
<line x1="363.80" y1="176.24" x2="366.80" y2="176.24" stroke="#1a1a1a" stroke-width="0.9"/>
<text x="360.40" y="178.51" font-size="6.35" text-anchor="end" fill="#1a1a1a">80</text>
<line x1="363.80" y1="161.80" x2="366.80" y2="161.80" stroke="#1a1a1a" stroke-width="0.9"/>
<text x="360.40" y="164.07" font-size="6.35" text-anchor="end" fill="#1a1a1a">100</text>
<rect x="371.70" y="233.28" width="8.60" height="0.72" fill="#1d4f8f"/>
<line x1="376.00" y1="233.28" x2="376.00" y2="232.92" stroke="#111" stroke-width="0.9"/>
<line x1="374.30" y1="232.92" x2="377.70" y2="232.92" stroke="#111" stroke-width="0.9"/>
<line x1="376.00" y1="234.00" x2="376.00" y2="236.40" stroke="#1a1a1a" stroke-width="0.9"/>
<circle cx="376.00" cy="233.28" r="0.95" fill="#111"/>
<circle cx="374.10" cy="233.64" r="0.95" fill="#111"/>
<circle cx="377.90" cy="233.42" r="0.95" fill="#111"/>
<rect x="382.90" y="232.56" width="8.60" height="1.44" fill="#d0112b"/>
<line x1="387.20" y1="232.56" x2="387.20" y2="231.83" stroke="#111" stroke-width="0.9"/>
<line x1="385.50" y1="231.83" x2="388.90" y2="231.83" stroke="#111" stroke-width="0.9"/>
<line x1="387.20" y1="234.00" x2="387.20" y2="236.40" stroke="#1a1a1a" stroke-width="0.9"/>
<circle cx="387.20" cy="231.11" r="0.95" fill="#111"/>
<circle cx="385.30" cy="232.56" r="0.95" fill="#111"/>
<circle cx="389.10" cy="232.19" r="0.95" fill="#111"/>
<rect x="394.10" y="230.17" width="8.60" height="3.83" fill="#1d4f8f"/>
<line x1="398.40" y1="230.17" x2="398.40" y2="228.73" stroke="#111" stroke-width="0.9"/>
<line x1="396.70" y1="228.73" x2="400.10" y2="228.73" stroke="#111" stroke-width="0.9"/>
<line x1="398.40" y1="234.00" x2="398.40" y2="236.40" stroke="#1a1a1a" stroke-width="0.9"/>
<circle cx="398.40" cy="227.50" r="0.95" fill="#111"/>
<circle cx="396.50" cy="230.39" r="0.95" fill="#111"/>
<circle cx="400.30" cy="232.56" r="0.95" fill="#111"/>
<rect x="405.30" y="206.71" width="8.60" height="27.29" fill="#d0112b"/>
<line x1="409.60" y1="206.71" x2="409.60" y2="203.82" stroke="#111" stroke-width="0.9"/>
<line x1="407.90" y1="203.82" x2="411.30" y2="203.82" stroke="#111" stroke-width="0.9"/>
<line x1="409.60" y1="234.00" x2="409.60" y2="236.40" stroke="#1a1a1a" stroke-width="0.9"/>
<circle cx="409.60" cy="202.95" r="0.95" fill="#111"/>
<circle cx="407.70" cy="208.01" r="0.95" fill="#111"/>
<circle cx="411.50" cy="210.17" r="0.95" fill="#111"/>
<rect x="416.50" y="211.33" width="8.60" height="22.67" fill="#1d4f8f"/>
<line x1="420.80" y1="211.33" x2="420.80" y2="208.44" stroke="#111" stroke-width="0.9"/>
<line x1="419.10" y1="208.44" x2="422.50" y2="208.44" stroke="#111" stroke-width="0.9"/>
<line x1="420.80" y1="234.00" x2="420.80" y2="236.40" stroke="#1a1a1a" stroke-width="0.9"/>
<circle cx="420.80" cy="207.29" r="0.95" fill="#111"/>
<circle cx="418.90" cy="211.62" r="0.95" fill="#111"/>
<circle cx="422.70" cy="213.78" r="0.95" fill="#111"/>
<rect x="427.70" y="182.09" width="8.60" height="51.91" fill="#d0112b"/>
<line x1="432.00" y1="182.09" x2="432.00" y2="180.64" stroke="#111" stroke-width="0.9"/>
<line x1="430.30" y1="180.64" x2="433.70" y2="180.64" stroke="#111" stroke-width="0.9"/>
<line x1="432.00" y1="234.00" x2="432.00" y2="236.40" stroke="#1a1a1a" stroke-width="0.9"/>
<circle cx="432.00" cy="179.85" r="0.95" fill="#111"/>
<circle cx="430.10" cy="182.74" r="0.95" fill="#111"/>
<circle cx="433.90" cy="183.46" r="0.95" fill="#111"/>
<rect x="438.90" y="208.59" width="8.60" height="25.41" fill="#1d4f8f"/>
<line x1="443.20" y1="208.59" x2="443.20" y2="206.42" stroke="#111" stroke-width="0.9"/>
<line x1="441.50" y1="206.42" x2="444.90" y2="206.42" stroke="#111" stroke-width="0.9"/>
<line x1="443.20" y1="234.00" x2="443.20" y2="236.40" stroke="#1a1a1a" stroke-width="0.9"/>
<circle cx="443.20" cy="206.56" r="0.95" fill="#111"/>
<circle cx="441.30" cy="208.73" r="0.95" fill="#111"/>
<circle cx="445.10" cy="210.17" r="0.95" fill="#111"/>
<rect x="450.10" y="179.78" width="8.60" height="54.22" fill="#d0112b"/>
<line x1="454.40" y1="179.78" x2="454.40" y2="176.17" stroke="#111" stroke-width="0.9"/>
<line x1="452.70" y1="176.17" x2="456.10" y2="176.17" stroke="#111" stroke-width="0.9"/>
<line x1="454.40" y1="234.00" x2="454.40" y2="236.40" stroke="#1a1a1a" stroke-width="0.9"/>
<circle cx="454.40" cy="176.24" r="0.95" fill="#111"/>
<circle cx="452.50" cy="177.68" r="0.95" fill="#111"/>
<circle cx="456.30" cy="185.63" r="0.95" fill="#111"/>
<line x1="398.00" y1="197.50" x2="409.20" y2="197.50" stroke="#1a1a1a" stroke-width="0.95"/>
<text x="403.60" y="197.30" font-size="6.4" text-anchor="middle" fill="#111" style="stroke-width:0.2px">***</text>
<line x1="421.20" y1="173.50" x2="432.70" y2="173.50" stroke="#1a1a1a" stroke-width="0.95"/>
<text x="426.95" y="173.30" font-size="6.4" text-anchor="middle" fill="#111" style="stroke-width:0.2px">***</text>
<line x1="443.80" y1="169.20" x2="455.00" y2="169.20" stroke="#1a1a1a" stroke-width="0.95"/>
<text x="449.40" y="169.00" font-size="6.4" text-anchor="middle" fill="#111" style="stroke-width:0.2px">**</text>
<text x="376.00" y="246.60" font-size="6.5" text-anchor="middle" textLength="3.33" lengthAdjust="spacingAndGlyphs" fill="#1a1a1a">0</text>
<text x="376.00" y="255.40" font-size="6.3" text-anchor="middle" fill="#1a1a1a">−</text>
<text x="387.20" y="246.60" font-size="6.5" text-anchor="middle" textLength="3.33" lengthAdjust="spacingAndGlyphs" fill="#1a1a1a">0</text>
<text x="387.20" y="255.65" font-size="7.056" text-anchor="middle" fill="#1a1a1a">+</text>
<text x="398.40" y="246.60" font-size="6.5" text-anchor="middle" textLength="8.31" lengthAdjust="spacingAndGlyphs" fill="#1a1a1a">0.1</text>
<text x="398.40" y="255.40" font-size="6.3" text-anchor="middle" fill="#1a1a1a">−</text>
<text x="409.60" y="246.60" font-size="6.5" text-anchor="middle" textLength="8.31" lengthAdjust="spacingAndGlyphs" fill="#1a1a1a">0.1</text>
<text x="409.60" y="255.65" font-size="7.056" text-anchor="middle" fill="#1a1a1a">+</text>
<text x="420.80" y="246.60" font-size="6.5" text-anchor="middle" textLength="8.31" lengthAdjust="spacingAndGlyphs" fill="#1a1a1a">0.5</text>
<text x="420.80" y="255.40" font-size="6.3" text-anchor="middle" fill="#1a1a1a">−</text>
<text x="432.00" y="246.60" font-size="6.5" text-anchor="middle" textLength="8.31" lengthAdjust="spacingAndGlyphs" fill="#1a1a1a">0.5</text>
<text x="432.00" y="255.65" font-size="7.056" text-anchor="middle" fill="#1a1a1a">+</text>
<text x="443.20" y="246.60" font-size="6.5" text-anchor="middle" textLength="3.33" lengthAdjust="spacingAndGlyphs" fill="#1a1a1a">1</text>
<text x="443.20" y="255.40" font-size="6.3" text-anchor="middle" fill="#1a1a1a">−</text>
<text x="454.40" y="246.60" font-size="6.5" text-anchor="middle" textLength="3.33" lengthAdjust="spacingAndGlyphs" fill="#1a1a1a">1</text>
<text x="454.40" y="255.65" font-size="7.056" text-anchor="middle" fill="#1a1a1a">+</text>
<text x="347.90" y="197.90" font-size="7.2" text-anchor="middle" transform="rotate(-90 347.90 197.90)" textLength="48.60" lengthAdjust="spacingAndGlyphs" fill="#1a1a1a" style="stroke-width:0.3px">% PAC1+ platelets</text>
<text x="0.45" y="282.30" font-size="11.3" text-anchor="start" font-weight="bold" fill="#0d0d0d" style="stroke-width:0.3px;stroke:#0d0d0d">H</text>
<text x="75.00" y="282.60" font-size="6.3" text-anchor="middle" textLength="79.60" lengthAdjust="spacingAndGlyphs" fill="#222" style="stroke-width:0.1px">Phosphatidylserine exposure</text>
<line x1="35.20" y1="283.45" x2="114.80" y2="283.45" stroke="#777" stroke-width="0.55"/>
<line x1="26.60" y1="290.60" x2="26.60" y2="366.15" stroke="#1a1a1a" stroke-width="1.15"/>
<line x1="26.10" y1="365.70" x2="122.00" y2="365.70" stroke="#1a1a1a" stroke-width="1.15"/>
<line x1="23.60" y1="365.70" x2="26.60" y2="365.70" stroke="#1a1a1a" stroke-width="0.9"/>
<text x="20.20" y="367.97" font-size="6.35" text-anchor="end" fill="#1a1a1a">0</text>
<line x1="23.60" y1="351.28" x2="26.60" y2="351.28" stroke="#1a1a1a" stroke-width="0.9"/>
<text x="20.20" y="353.55" font-size="6.35" text-anchor="end" fill="#1a1a1a">20</text>
<line x1="23.60" y1="336.86" x2="26.60" y2="336.86" stroke="#1a1a1a" stroke-width="0.9"/>
<text x="20.20" y="339.13" font-size="6.35" text-anchor="end" fill="#1a1a1a">40</text>
<line x1="23.60" y1="322.44" x2="26.60" y2="322.44" stroke="#1a1a1a" stroke-width="0.9"/>
<text x="20.20" y="324.71" font-size="6.35" text-anchor="end" fill="#1a1a1a">60</text>
<line x1="23.60" y1="308.02" x2="26.60" y2="308.02" stroke="#1a1a1a" stroke-width="0.9"/>
<text x="20.20" y="310.29" font-size="6.35" text-anchor="end" fill="#1a1a1a">80</text>
<line x1="23.60" y1="293.60" x2="26.60" y2="293.60" stroke="#1a1a1a" stroke-width="0.9"/>
<text x="20.20" y="295.87" font-size="6.35" text-anchor="end" fill="#1a1a1a">100</text>
<rect x="31.00" y="364.98" width="8.60" height="0.72" fill="#1d4f8f"/>
<line x1="35.30" y1="364.98" x2="35.30" y2="364.62" stroke="#111" stroke-width="0.9"/>
<line x1="33.60" y1="364.62" x2="37.00" y2="364.62" stroke="#111" stroke-width="0.9"/>
<line x1="35.30" y1="365.70" x2="35.30" y2="368.10" stroke="#1a1a1a" stroke-width="0.9"/>
<circle cx="35.30" cy="364.83" r="0.95" fill="#111"/>
<circle cx="33.40" cy="365.27" r="0.95" fill="#111"/>
<circle cx="37.20" cy="364.98" r="0.95" fill="#111"/>
<rect x="42.20" y="364.98" width="8.60" height="0.72" fill="#d0112b"/>
<line x1="46.50" y1="364.98" x2="46.50" y2="364.62" stroke="#111" stroke-width="0.9"/>
<line x1="44.80" y1="364.62" x2="48.20" y2="364.62" stroke="#111" stroke-width="0.9"/>
<line x1="46.50" y1="365.70" x2="46.50" y2="368.10" stroke="#1a1a1a" stroke-width="0.9"/>
<circle cx="46.50" cy="364.55" r="0.95" fill="#111"/>
<circle cx="44.60" cy="365.12" r="0.95" fill="#111"/>
<circle cx="48.40" cy="364.83" r="0.95" fill="#111"/>
<rect x="53.40" y="364.98" width="8.60" height="0.72" fill="#1d4f8f"/>
<line x1="57.70" y1="364.98" x2="57.70" y2="364.62" stroke="#111" stroke-width="0.9"/>
<line x1="56.00" y1="364.62" x2="59.40" y2="364.62" stroke="#111" stroke-width="0.9"/>
<line x1="57.70" y1="365.70" x2="57.70" y2="368.10" stroke="#1a1a1a" stroke-width="0.9"/>
<circle cx="57.70" cy="364.83" r="0.95" fill="#111"/>
<circle cx="55.80" cy="365.27" r="0.95" fill="#111"/>
<circle cx="59.60" cy="364.98" r="0.95" fill="#111"/>
<rect x="64.60" y="345.15" width="8.60" height="20.55" fill="#d0112b"/>
<line x1="68.90" y1="345.15" x2="68.90" y2="342.63" stroke="#111" stroke-width="0.9"/>
<line x1="67.20" y1="342.63" x2="70.60" y2="342.63" stroke="#111" stroke-width="0.9"/>
<line x1="68.90" y1="365.70" x2="68.90" y2="368.10" stroke="#1a1a1a" stroke-width="0.9"/>
<circle cx="68.90" cy="339.74" r="0.95" fill="#111"/>
<circle cx="67.00" cy="346.23" r="0.95" fill="#111"/>
<circle cx="70.80" cy="347.68" r="0.95" fill="#111"/>
<rect x="75.80" y="363.54" width="8.60" height="2.16" fill="#1d4f8f"/>
<line x1="80.10" y1="363.54" x2="80.10" y2="362.82" stroke="#111" stroke-width="0.9"/>
<line x1="78.40" y1="362.82" x2="81.80" y2="362.82" stroke="#111" stroke-width="0.9"/>
<line x1="80.10" y1="365.70" x2="80.10" y2="368.10" stroke="#1a1a1a" stroke-width="0.9"/>
<circle cx="80.10" cy="362.46" r="0.95" fill="#111"/>
<circle cx="78.20" cy="363.54" r="0.95" fill="#111"/>
<circle cx="82.00" cy="363.90" r="0.95" fill="#111"/>
<rect x="87.00" y="339.02" width="8.60" height="26.68" fill="#d0112b"/>
<line x1="91.30" y1="339.02" x2="91.30" y2="334.34" stroke="#111" stroke-width="0.9"/>
<line x1="89.60" y1="334.34" x2="93.00" y2="334.34" stroke="#111" stroke-width="0.9"/>
<line x1="91.30" y1="365.70" x2="91.30" y2="368.10" stroke="#1a1a1a" stroke-width="0.9"/>
<circle cx="91.30" cy="330.37" r="0.95" fill="#111"/>
<circle cx="89.40" cy="339.02" r="0.95" fill="#111"/>
<circle cx="93.20" cy="341.91" r="0.95" fill="#111"/>
<rect x="98.20" y="363.54" width="8.60" height="2.16" fill="#1d4f8f"/>
<line x1="102.50" y1="363.54" x2="102.50" y2="362.82" stroke="#111" stroke-width="0.9"/>
<line x1="100.80" y1="362.82" x2="104.20" y2="362.82" stroke="#111" stroke-width="0.9"/>
<line x1="102.50" y1="365.70" x2="102.50" y2="368.10" stroke="#1a1a1a" stroke-width="0.9"/>
<circle cx="102.50" cy="362.46" r="0.95" fill="#111"/>
<circle cx="100.60" cy="363.54" r="0.95" fill="#111"/>
<circle cx="104.40" cy="363.90" r="0.95" fill="#111"/>
<rect x="109.40" y="326.05" width="8.60" height="39.65" fill="#d0112b"/>
<line x1="113.70" y1="326.05" x2="113.70" y2="318.47" stroke="#111" stroke-width="0.9"/>
<line x1="112.00" y1="318.47" x2="115.40" y2="318.47" stroke="#111" stroke-width="0.9"/>
<line x1="113.70" y1="365.70" x2="113.70" y2="368.10" stroke="#1a1a1a" stroke-width="0.9"/>
<circle cx="113.70" cy="313.07" r="0.95" fill="#111"/>
<circle cx="111.80" cy="328.21" r="0.95" fill="#111"/>
<circle cx="115.60" cy="332.53" r="0.95" fill="#111"/>
<line x1="59.00" y1="334.50" x2="70.10" y2="334.50" stroke="#1a1a1a" stroke-width="0.95"/>
<text x="64.55" y="334.30" font-size="6.4" text-anchor="middle" fill="#111" style="stroke-width:0.2px">**</text>
<line x1="82.00" y1="323.40" x2="93.20" y2="323.40" stroke="#1a1a1a" stroke-width="0.95"/>
<text x="87.60" y="323.20" font-size="6.4" text-anchor="middle" fill="#111" style="stroke-width:0.2px">***</text>
<line x1="104.40" y1="305.70" x2="114.80" y2="305.70" stroke="#1a1a1a" stroke-width="0.95"/>
<text x="109.60" y="305.50" font-size="6.4" text-anchor="middle" fill="#111" style="stroke-width:0.2px">**</text>
<text x="28.60" y="377.80" font-size="6.8" text-anchor="end" textLength="25.40" lengthAdjust="spacingAndGlyphs" fill="#1a1a1a">GPVI ag:</text>
<text x="28.40" y="384.80" font-size="6.4" text-anchor="end" textLength="18.80" lengthAdjust="spacingAndGlyphs" fill="#1a1a1a">oxLDL:</text>
<text x="35.30" y="377.80" font-size="6.8" text-anchor="middle" textLength="3.33" lengthAdjust="spacingAndGlyphs" fill="#1a1a1a">0</text>
<text x="35.30" y="384.80" font-size="6.4" text-anchor="middle" fill="#1a1a1a">−</text>
<text x="46.50" y="377.80" font-size="6.8" text-anchor="middle" textLength="3.33" lengthAdjust="spacingAndGlyphs" fill="#1a1a1a">0</text>
<text x="46.50" y="385.05" font-size="7.168000000000001" text-anchor="middle" fill="#1a1a1a">+</text>
<text x="57.70" y="377.80" font-size="6.8" text-anchor="middle" textLength="8.32" lengthAdjust="spacingAndGlyphs" fill="#1a1a1a">0.1</text>
<text x="57.70" y="384.80" font-size="6.4" text-anchor="middle" fill="#1a1a1a">−</text>
<text x="68.90" y="377.80" font-size="6.8" text-anchor="middle" textLength="8.32" lengthAdjust="spacingAndGlyphs" fill="#1a1a1a">0.1</text>
<text x="68.90" y="385.05" font-size="7.168000000000001" text-anchor="middle" fill="#1a1a1a">+</text>
<text x="80.10" y="377.80" font-size="6.8" text-anchor="middle" textLength="8.32" lengthAdjust="spacingAndGlyphs" fill="#1a1a1a">0.5</text>
<text x="80.10" y="384.80" font-size="6.4" text-anchor="middle" fill="#1a1a1a">−</text>
<text x="91.30" y="377.80" font-size="6.8" text-anchor="middle" textLength="8.32" lengthAdjust="spacingAndGlyphs" fill="#1a1a1a">0.5</text>
<text x="91.30" y="385.05" font-size="7.168000000000001" text-anchor="middle" fill="#1a1a1a">+</text>
<text x="102.50" y="377.80" font-size="6.8" text-anchor="middle" textLength="3.33" lengthAdjust="spacingAndGlyphs" fill="#1a1a1a">1</text>
<text x="102.50" y="384.80" font-size="6.4" text-anchor="middle" fill="#1a1a1a">−</text>
<text x="113.70" y="377.80" font-size="6.8" text-anchor="middle" textLength="3.33" lengthAdjust="spacingAndGlyphs" fill="#1a1a1a">1</text>
<text x="113.70" y="385.05" font-size="7.168000000000001" text-anchor="middle" fill="#1a1a1a">+</text>
<text x="7.00" y="328.00" font-size="7.2" text-anchor="middle" transform="rotate(-90 7.00 328.00)" textLength="63.20" lengthAdjust="spacingAndGlyphs" fill="#1a1a1a" style="stroke-width:0.3px">% Lactadherin+ platelets</text>
<text x="138.45" y="282.00" font-size="11.3" text-anchor="start" font-weight="bold" fill="#0d0d0d" style="stroke-width:0.3px;stroke:#0d0d0d">I</text>
<line x1="169.30" y1="310.00" x2="169.30" y2="366.15" stroke="#1a1a1a" stroke-width="1.15"/>
<line x1="168.80" y1="365.70" x2="252.00" y2="365.70" stroke="#1a1a1a" stroke-width="1.15"/>
<line x1="166.30" y1="365.70" x2="169.30" y2="365.70" stroke="#1a1a1a" stroke-width="0.9"/>
<text x="162.90" y="367.97" font-size="6.35" text-anchor="end" fill="#1a1a1a">0</text>
<line x1="166.30" y1="348.13" x2="169.30" y2="348.13" stroke="#1a1a1a" stroke-width="0.9"/>
<text x="162.90" y="350.41" font-size="6.35" text-anchor="end" fill="#1a1a1a">2000</text>
<line x1="166.30" y1="330.57" x2="169.30" y2="330.57" stroke="#1a1a1a" stroke-width="0.9"/>
<text x="162.90" y="332.84" font-size="6.35" text-anchor="end" fill="#1a1a1a">4000</text>
<line x1="166.30" y1="313.00" x2="169.30" y2="313.00" stroke="#1a1a1a" stroke-width="0.9"/>
<text x="162.90" y="315.27" font-size="6.35" text-anchor="end" fill="#1a1a1a">6000</text>
<rect x="172.80" y="355.77" width="7.80" height="9.93" fill="#1d4f8f"/>
<line x1="176.70" y1="355.77" x2="176.70" y2="353.32" stroke="#111" stroke-width="0.9"/>
<line x1="175.00" y1="353.32" x2="178.40" y2="353.32" stroke="#111" stroke-width="0.9"/>
<line x1="176.70" y1="365.70" x2="176.70" y2="368.10" stroke="#1a1a1a" stroke-width="0.9"/>
<circle cx="176.70" cy="350.77" r="0.95" fill="#111"/>
<circle cx="174.80" cy="356.92" r="0.95" fill="#111"/>
<circle cx="178.60" cy="359.55" r="0.95" fill="#111"/>
<rect x="184.00" y="358.59" width="7.80" height="7.11" fill="#d0112b"/>
<line x1="187.90" y1="358.59" x2="187.90" y2="357.53" stroke="#111" stroke-width="0.9"/>
<line x1="186.20" y1="357.53" x2="189.60" y2="357.53" stroke="#111" stroke-width="0.9"/>
<line x1="187.90" y1="365.70" x2="187.90" y2="368.10" stroke="#1a1a1a" stroke-width="0.9"/>
<circle cx="186.90" cy="356.92" r="0.95" fill="#111"/>
<circle cx="188.90" cy="359.55" r="0.95" fill="#111"/>
<rect x="195.50" y="345.23" width="7.80" height="20.47" fill="#1d4f8f"/>
<line x1="199.40" y1="345.23" x2="199.40" y2="344.71" stroke="#111" stroke-width="0.9"/>
<line x1="197.70" y1="344.71" x2="201.10" y2="344.71" stroke="#111" stroke-width="0.9"/>
<line x1="199.40" y1="365.70" x2="199.40" y2="368.10" stroke="#1a1a1a" stroke-width="0.9"/>
<circle cx="198.40" cy="344.62" r="0.95" fill="#111"/>
<circle cx="200.40" cy="345.50" r="0.95" fill="#111"/>
<rect x="206.90" y="318.53" width="7.80" height="47.17" fill="#d0112b"/>
<line x1="210.80" y1="318.53" x2="210.80" y2="315.90" stroke="#111" stroke-width="0.9"/>
<line x1="209.10" y1="315.90" x2="212.50" y2="315.90" stroke="#111" stroke-width="0.9"/>
<line x1="210.80" y1="365.70" x2="210.80" y2="368.10" stroke="#1a1a1a" stroke-width="0.9"/>
<circle cx="210.80" cy="313.88" r="0.95" fill="#111"/>
<circle cx="208.90" cy="319.15" r="0.95" fill="#111"/>
<circle cx="212.70" cy="320.90" r="0.95" fill="#111"/>
<rect x="218.20" y="337.15" width="7.80" height="28.55" fill="#5a2379"/>
<line x1="222.10" y1="337.15" x2="222.10" y2="332.76" stroke="#111" stroke-width="0.9"/>
<line x1="220.40" y1="332.76" x2="223.80" y2="332.76" stroke="#111" stroke-width="0.9"/>
<line x1="222.10" y1="365.70" x2="222.10" y2="368.10" stroke="#1a1a1a" stroke-width="0.9"/>
<circle cx="222.10" cy="332.32" r="0.95" fill="#111"/>
<circle cx="220.20" cy="334.96" r="0.95" fill="#111"/>
<circle cx="224.00" cy="340.23" r="0.95" fill="#111"/>
<rect x="229.40" y="349.98" width="7.80" height="15.72" fill="#5a2379"/>
<line x1="233.30" y1="349.98" x2="233.30" y2="348.22" stroke="#111" stroke-width="0.9"/>
<line x1="231.60" y1="348.22" x2="235.00" y2="348.22" stroke="#111" stroke-width="0.9"/>
<line x1="233.30" y1="365.70" x2="233.30" y2="368.10" stroke="#1a1a1a" stroke-width="0.9"/>
<circle cx="233.30" cy="347.25" r="0.95" fill="#111"/>
<circle cx="231.40" cy="350.77" r="0.95" fill="#111"/>
<circle cx="235.20" cy="352.52" r="0.95" fill="#111"/>
<rect x="240.70" y="338.12" width="7.80" height="27.58" fill="#5a2379"/>
<line x1="244.60" y1="338.12" x2="244.60" y2="331.53" stroke="#111" stroke-width="0.9"/>
<line x1="242.90" y1="331.53" x2="246.30" y2="331.53" stroke="#111" stroke-width="0.9"/>
<line x1="244.60" y1="365.70" x2="244.60" y2="368.10" stroke="#1a1a1a" stroke-width="0.9"/>
<circle cx="244.60" cy="327.05" r="0.95" fill="#111"/>
<circle cx="242.70" cy="339.35" r="0.95" fill="#111"/>
<circle cx="246.50" cy="344.62" r="0.95" fill="#111"/>
<text x="222.10" y="329.00" font-size="6.4" text-anchor="middle" fill="#111" style="stroke-width:0.2px">**</text>
<text x="233.30" y="344.90" font-size="6.4" text-anchor="middle" fill="#111" style="stroke-width:0.2px">***</text>
<text x="244.60" y="322.40" font-size="6.4" text-anchor="middle" fill="#111" style="stroke-width:0.2px">**</text>
<text x="168.40" y="377.80" font-size="6.4" text-anchor="end" textLength="24.30" lengthAdjust="spacingAndGlyphs" fill="#1a1a1a">inhibitor:</text>
<text x="168.40" y="390.80" font-size="6.4" text-anchor="end" textLength="25.60" lengthAdjust="spacingAndGlyphs" fill="#1a1a1a">GPVI ag:</text>
<text x="168.40" y="399.50" font-size="6.4" text-anchor="end" textLength="19.40" lengthAdjust="spacingAndGlyphs" fill="#1a1a1a">oxLDL:</text>
<text x="179.00" y="372.00" font-size="6.6" text-anchor="end" transform="rotate(-50 179.00 372.00)" fill="#1a1a1a">veh</text>
<text x="176.70" y="391.00" font-size="6.4" text-anchor="middle" fill="#1a1a1a">−</text>
<text x="176.70" y="399.60" font-size="6.4" text-anchor="middle" fill="#1a1a1a">−</text>
<text x="190.20" y="372.00" font-size="6.6" text-anchor="end" transform="rotate(-50 190.20 372.00)" fill="#1a1a1a">veh</text>
<text x="187.90" y="391.00" font-size="6.4" text-anchor="middle" fill="#1a1a1a">−</text>
<text x="187.90" y="399.85" font-size="7.168000000000001" text-anchor="middle" fill="#1a1a1a">+</text>
<text x="201.70" y="372.00" font-size="6.6" text-anchor="end" transform="rotate(-50 201.70 372.00)" fill="#1a1a1a">veh</text>
<text x="199.40" y="391.25" font-size="7.168000000000001" text-anchor="middle" fill="#1a1a1a">+</text>
<text x="199.40" y="399.60" font-size="6.4" text-anchor="middle" fill="#1a1a1a">−</text>
<text x="213.10" y="372.00" font-size="6.6" text-anchor="end" transform="rotate(-50 213.10 372.00)" fill="#1a1a1a">veh</text>
<text x="210.80" y="391.25" font-size="7.168000000000001" text-anchor="middle" fill="#1a1a1a">+</text>
<text x="210.80" y="399.85" font-size="7.168000000000001" text-anchor="middle" fill="#1a1a1a">+</text>
<text x="224.40" y="372.00" font-size="6.6" text-anchor="end" transform="rotate(-50 224.40 372.00)" fill="#1a1a1a">FcSA</text>
<text x="222.10" y="391.25" font-size="7.168000000000001" text-anchor="middle" fill="#1a1a1a">+</text>
<text x="222.10" y="399.85" font-size="7.168000000000001" text-anchor="middle" fill="#1a1a1a">+</text>
<text x="235.60" y="372.00" font-size="6.6" text-anchor="end" transform="rotate(-50 235.60 372.00)" fill="#1a1a1a">Sulfo</text>
<text x="233.30" y="391.25" font-size="7.168000000000001" text-anchor="middle" fill="#1a1a1a">+</text>
<text x="233.30" y="399.85" font-size="7.168000000000001" text-anchor="middle" fill="#1a1a1a">+</text>
<text x="246.90" y="372.00" font-size="6.6" text-anchor="end" transform="rotate(-50 246.90 372.00)" fill="#1a1a1a">FA6</text>
<text x="244.60" y="391.25" font-size="7.168000000000001" text-anchor="middle" fill="#1a1a1a">+</text>
<text x="244.60" y="399.85" font-size="7.168000000000001" text-anchor="middle" fill="#1a1a1a">+</text>
<text x="142.90" y="332.40" font-size="7.2" text-anchor="middle" transform="rotate(-90 142.90 332.40)" textLength="44.40" lengthAdjust="spacingAndGlyphs" fill="#1a1a1a" style="stroke-width:0.3px">FITC-lactadherin MFI</text>
<text x="267.13" y="282.10" font-size="11.3" text-anchor="start" font-weight="bold" fill="#0d0d0d" style="stroke-width:0.3px;stroke:#0d0d0d">J</text>
<text x="348.25" y="282.60" font-size="6.3" text-anchor="middle" textLength="46.70" lengthAdjust="spacingAndGlyphs" fill="#222" style="stroke-width:0.1px">Fibrin generation</text>
<line x1="324.90" y1="283.45" x2="371.60" y2="283.45" stroke="#777" stroke-width="0.55"/>
<line x1="292.40" y1="290.60" x2="292.40" y2="366.35" stroke="#1a1a1a" stroke-width="1.15"/>
<line x1="291.90" y1="365.90" x2="403.50" y2="365.90" stroke="#1a1a1a" stroke-width="1.15"/>
<line x1="289.40" y1="365.90" x2="292.40" y2="365.90" stroke="#1a1a1a" stroke-width="0.9"/>
<text x="286.00" y="368.17" font-size="6.35" text-anchor="end" fill="#1a1a1a">0</text>
<line x1="289.40" y1="347.80" x2="292.40" y2="347.80" stroke="#1a1a1a" stroke-width="0.9"/>
<text x="286.00" y="350.07" font-size="6.35" text-anchor="end" fill="#1a1a1a">0.2</text>
<line x1="289.40" y1="329.70" x2="292.40" y2="329.70" stroke="#1a1a1a" stroke-width="0.9"/>
<text x="286.00" y="331.97" font-size="6.35" text-anchor="end" fill="#1a1a1a">0.4</text>
<line x1="289.40" y1="311.60" x2="292.40" y2="311.60" stroke="#1a1a1a" stroke-width="0.9"/>
<text x="286.00" y="313.87" font-size="6.35" text-anchor="end" fill="#1a1a1a">0.6</text>
<line x1="289.40" y1="293.50" x2="292.40" y2="293.50" stroke="#1a1a1a" stroke-width="0.9"/>
<text x="286.00" y="295.77" font-size="6.35" text-anchor="end" fill="#1a1a1a">0.8</text>
<line x1="292.40" y1="365.90" x2="292.40" y2="368.50" stroke="#1a1a1a" stroke-width="0.9"/>
<text x="292.40" y="377.87" font-size="6.35" text-anchor="middle" fill="#1a1a1a">0</text>
<line x1="328.40" y1="365.90" x2="328.40" y2="368.50" stroke="#1a1a1a" stroke-width="0.9"/>
<text x="328.40" y="377.87" font-size="6.35" text-anchor="middle" fill="#1a1a1a">2000</text>
<line x1="364.40" y1="365.90" x2="364.40" y2="368.50" stroke="#1a1a1a" stroke-width="0.9"/>
<text x="364.40" y="377.87" font-size="6.35" text-anchor="middle" fill="#1a1a1a">4000</text>
<line x1="400.40" y1="365.90" x2="400.40" y2="368.50" stroke="#1a1a1a" stroke-width="0.9"/>
<text x="400.40" y="377.87" font-size="6.35" text-anchor="middle" fill="#1a1a1a">6000</text>
<text x="348.50" y="388.50" font-size="7.4" text-anchor="middle" textLength="20.90" lengthAdjust="spacingAndGlyphs" fill="#1a1a1a" style="stroke-width:0.3px">Time (s)</text>
<text x="271.80" y="328.55" font-size="7.2" text-anchor="middle" transform="rotate(-90 271.80 328.55)" textLength="54.90" lengthAdjust="spacingAndGlyphs" fill="#1a1a1a" style="stroke-width:0.3px">Absorbance (405 nm)</text>
<path d="M293.20,346.80 L394.70,346.80" fill="none" stroke="#a9dcec" stroke-width="1.0" stroke-linejoin="round" stroke-linecap="round"/>
<path d="M293.20,345.30 L296.09,345.32 L299.97,345.35 L304.60,345.38 L309.72,345.41 L315.08,345.45 L320.42,345.47 L325.47,345.49 L330.00,345.50 L334.20,345.51 L338.39,345.54 L342.52,345.56 L346.52,345.58 L350.33,345.58 L353.89,345.54 L357.13,345.45 L360.00,345.30 L362.44,345.09 L364.50,344.84 L366.24,344.55 L367.72,344.21 L369.03,343.85 L370.21,343.45 L371.35,343.04 L372.50,342.60 L373.59,342.15 L374.53,341.67 L375.35,341.16 L376.09,340.63 L376.78,340.07 L377.45,339.48 L378.15,338.86 L378.90,338.20 L379.70,337.48 L380.51,336.67 L381.31,335.81 L382.12,334.94 L382.92,334.07 L383.70,333.24 L384.46,332.47 L385.20,331.80 L385.92,331.22 L386.62,330.69 L387.31,330.22 L387.98,329.79 L388.64,329.40 L389.28,329.05 L389.90,328.71 L390.50,328.40 L391.11,328.11 L391.73,327.86 L392.34,327.63 L392.93,327.44 L393.48,327.27 L393.97,327.12 L394.38,327.00 L394.70,326.90" fill="none" stroke="#f2a33a" stroke-width="1.0" stroke-linejoin="round" stroke-linecap="round" stroke-dasharray="2 1.6"/>
<path d="M293.20,347.40 L296.13,347.41 L300.12,347.43 L304.89,347.45 L310.13,347.47 L315.56,347.48 L320.87,347.48 L325.78,347.45 L330.00,347.40 L333.68,347.33 L337.16,347.25 L340.45,347.16 L343.52,347.04 L346.37,346.91 L348.99,346.74 L351.37,346.54 L353.50,346.30 L355.30,346.04 L356.73,345.77 L357.88,345.47 L358.82,345.14 L359.63,344.77 L360.38,344.32 L361.15,343.81 L362.00,343.20 L362.90,342.50 L363.75,341.73 L364.57,340.88 L365.35,339.97 L366.11,339.00 L366.85,337.98 L367.58,336.91 L368.30,335.80 L369.01,334.61 L369.70,333.30 L370.36,331.92 L371.01,330.50 L371.66,329.08 L372.30,327.70 L372.94,326.39 L373.60,325.20 L374.27,324.09 L374.95,323.01 L375.64,321.98 L376.32,320.99 L377.00,320.08 L377.66,319.23 L378.29,318.47 L378.90,317.80 L379.46,317.24 L379.99,316.79 L380.49,316.42 L380.97,316.13 L381.45,315.88 L381.94,315.68 L382.45,315.49 L383.00,315.30 L383.57,315.13 L384.15,315.00 L384.73,314.91 L385.34,314.85 L385.96,314.80 L386.61,314.77 L387.29,314.74 L388.00,314.70 L388.80,314.66 L389.71,314.64 L390.68,314.62 L391.66,314.61 L392.60,314.61 L393.46,314.61 L394.17,314.60 L394.70,314.60" fill="none" stroke="#3fa34d" stroke-width="1.1" stroke-linejoin="round" stroke-linecap="round"/>
<path d="M293.20,347.40 L294.52,347.44 L296.31,347.50 L298.45,347.57 L300.80,347.64 L303.25,347.73 L305.69,347.81 L307.98,347.91 L310.00,348.00 L311.82,348.13 L313.58,348.31 L315.28,348.51 L316.92,348.71 L318.49,348.88 L320.00,348.98 L321.43,349.00 L322.80,348.90 L324.08,348.68 L325.28,348.38 L326.40,348.00 L327.46,347.55 L328.46,347.05 L329.43,346.50 L330.37,345.91 L331.30,345.30 L332.21,344.66 L333.10,343.99 L333.96,343.28 L334.78,342.53 L335.56,341.72 L336.29,340.87 L336.98,339.96 L337.60,339.00 L338.15,337.95 L338.62,336.80 L339.03,335.59 L339.39,334.33 L339.74,333.06 L340.07,331.79 L340.42,330.57 L340.80,329.40 L341.19,328.27 L341.55,327.13 L341.91,326.00 L342.27,324.89 L342.65,323.83 L343.06,322.81 L343.50,321.86 L344.00,321.00 L344.55,320.21 L345.13,319.49 L345.75,318.82 L346.40,318.21 L347.07,317.65 L347.77,317.15 L348.48,316.70 L349.20,316.30 L349.72,315.97 L349.95,315.71 L350.08,315.52 L350.28,315.38 L350.75,315.27 L351.67,315.18 L353.23,315.10 L355.60,315.00 L359.19,314.90 L363.99,314.83 L369.59,314.77 L375.55,314.72 L381.46,314.68 L386.91,314.65 L391.46,314.62 L394.70,314.60" fill="none" stroke="#264d78" stroke-width="1.15" stroke-linejoin="round" stroke-linecap="round"/>
<path d="M293.20,343.80 L296.04,343.86 L299.97,343.96 L304.67,344.08 L309.80,344.20 L315.03,344.30 L320.03,344.34 L324.46,344.32 L328.00,344.20 L330.67,343.98 L332.80,343.68 L334.51,343.31 L335.92,342.89 L337.14,342.43 L338.28,341.95 L339.46,341.47 L340.80,341.00 L342.23,340.59 L343.61,340.25 L344.95,339.92 L346.25,339.56 L347.53,339.12 L348.79,338.55 L350.05,337.79 L351.30,336.80 L352.57,335.53 L353.86,334.00 L355.15,332.28 L356.43,330.43 L357.65,328.51 L358.82,326.59 L359.91,324.73 L360.90,323.00 L361.76,321.33 L362.50,319.64 L363.16,317.96 L363.76,316.30 L364.33,314.69 L364.91,313.16 L365.52,311.72 L366.20,310.40 L366.92,309.19 L367.65,308.07 L368.39,307.03 L369.15,306.07 L369.93,305.19 L370.75,304.39 L371.60,303.66 L372.50,303.00 L373.42,302.43 L374.35,301.96 L375.30,301.57 L376.29,301.25 L377.33,300.99 L378.46,300.77 L379.67,300.58 L381.00,300.40 L382.56,300.26 L384.38,300.18 L386.36,300.14 L388.38,300.14 L390.34,300.15 L392.12,300.18 L393.61,300.20 L394.70,300.20" fill="none" stroke="#c8143a" stroke-width="1.15" stroke-linejoin="round" stroke-linecap="round"/>
<line x1="288.50" y1="401.50" x2="296.50" y2="401.50" stroke="#a9dcec" stroke-width="1.0"/>
<text x="300.00" y="403.60" font-size="6.6" text-anchor="start" textLength="7.50" lengthAdjust="spacingAndGlyphs" fill="#1a1a1a">HT</text>
<line x1="288.50" y1="411.60" x2="296.50" y2="411.60" stroke="#f2a33a" stroke-width="1.0" stroke-dasharray="2 1.5"/>
<text x="300.00" y="413.80" font-size="6.6" text-anchor="start" textLength="20.80" lengthAdjust="spacingAndGlyphs" fill="#1a1a1a">Resting</text>
<line x1="288.50" y1="422.30" x2="296.50" y2="422.30" stroke="#6db377" stroke-width="0.9"/>
<text x="300.00" y="424.20" font-size="6.6" text-anchor="start" textLength="16.70" lengthAdjust="spacingAndGlyphs" fill="#1a1a1a">oxLDL</text>
<line x1="333.40" y1="401.50" x2="341.50" y2="401.50" stroke="#b82040" stroke-width="0.9"/>
<text x="344.60" y="403.60" font-size="6.6" text-anchor="start" textLength="36.90" lengthAdjust="spacingAndGlyphs" fill="#1a1a1a">GPVI agonist</text>
<line x1="333.40" y1="411.80" x2="341.50" y2="411.80" stroke="#4a7090" stroke-width="1.0"/>
<text x="344.60" y="413.80" font-size="6.6" text-anchor="start" textLength="62.40" lengthAdjust="spacingAndGlyphs" fill="#1a1a1a">oxLDL + GPVI agonist</text>
<text x="421.35" y="282.30" font-size="11.3" text-anchor="start" font-weight="bold" fill="#0d0d0d" style="stroke-width:0.3px;stroke:#0d0d0d">K</text>
<line x1="454.90" y1="297.50" x2="454.90" y2="365.95" stroke="#1a1a1a" stroke-width="1.15"/>
<line x1="454.40" y1="365.50" x2="519.50" y2="365.50" stroke="#1a1a1a" stroke-width="1.15"/>
<line x1="451.90" y1="365.50" x2="454.90" y2="365.50" stroke="#1a1a1a" stroke-width="0.9"/>
<text x="448.50" y="367.77" font-size="6.35" text-anchor="end" fill="#1a1a1a">0</text>
<line x1="451.90" y1="343.83" x2="454.90" y2="343.83" stroke="#1a1a1a" stroke-width="0.9"/>
<text x="448.50" y="346.11" font-size="6.35" text-anchor="end" fill="#1a1a1a">2000</text>
<line x1="451.90" y1="322.17" x2="454.90" y2="322.17" stroke="#1a1a1a" stroke-width="0.9"/>
<text x="448.50" y="324.44" font-size="6.35" text-anchor="end" fill="#1a1a1a">4000</text>
<line x1="451.90" y1="300.50" x2="454.90" y2="300.50" stroke="#1a1a1a" stroke-width="0.9"/>
<text x="448.50" y="302.77" font-size="6.35" text-anchor="end" fill="#1a1a1a">6000</text>
<rect x="460.55" y="321.95" width="10.90" height="43.55" fill="#1d4f8f"/>
<line x1="466.00" y1="321.95" x2="466.00" y2="318.38" stroke="#111" stroke-width="0.9"/>
<line x1="464.30" y1="318.38" x2="467.70" y2="318.38" stroke="#111" stroke-width="0.9"/>
<line x1="466.00" y1="365.50" x2="466.00" y2="367.90" stroke="#1a1a1a" stroke-width="0.9"/>
<circle cx="466.00" cy="312.42" r="0.95" fill="#111"/>
<circle cx="464.10" cy="322.17" r="0.95" fill="#111"/>
<circle cx="467.90" cy="326.50" r="0.95" fill="#111"/>
<rect x="474.75" y="343.51" width="10.90" height="21.99" fill="#d0112b"/>
<line x1="480.20" y1="343.51" x2="480.20" y2="341.88" stroke="#111" stroke-width="0.9"/>
<line x1="478.50" y1="341.88" x2="481.90" y2="341.88" stroke="#111" stroke-width="0.9"/>
<line x1="480.20" y1="365.50" x2="480.20" y2="367.90" stroke="#1a1a1a" stroke-width="0.9"/>
<circle cx="479.20" cy="340.58" r="0.95" fill="#111"/>
<circle cx="481.20" cy="344.92" r="0.95" fill="#111"/>
<rect x="488.85" y="336.03" width="10.90" height="29.47" fill="#1d4f8f"/>
<line x1="494.30" y1="336.03" x2="494.30" y2="333.54" stroke="#111" stroke-width="0.9"/>
<line x1="492.60" y1="333.54" x2="496.00" y2="333.54" stroke="#111" stroke-width="0.9"/>
<line x1="494.30" y1="365.50" x2="494.30" y2="367.90" stroke="#1a1a1a" stroke-width="0.9"/>
<circle cx="494.30" cy="333.00" r="0.95" fill="#111"/>
<circle cx="492.40" cy="337.33" r="0.95" fill="#111"/>
<circle cx="496.20" cy="339.50" r="0.95" fill="#111"/>
<rect x="502.85" y="349.79" width="10.90" height="15.71" fill="#d0112b"/>
<line x1="508.30" y1="349.79" x2="508.30" y2="347.62" stroke="#111" stroke-width="0.9"/>
<line x1="506.60" y1="347.62" x2="510.00" y2="347.62" stroke="#111" stroke-width="0.9"/>
<line x1="508.30" y1="365.50" x2="508.30" y2="367.90" stroke="#1a1a1a" stroke-width="0.9"/>
<circle cx="508.30" cy="347.08" r="0.95" fill="#111"/>
<circle cx="506.40" cy="350.33" r="0.95" fill="#111"/>
<circle cx="510.20" cy="351.96" r="0.95" fill="#111"/>
<line x1="466.00" y1="308.20" x2="494.60" y2="308.20" stroke="#333" stroke-width="0.8"/>
<line x1="479.10" y1="304.60" x2="508.60" y2="304.60" stroke="#333" stroke-width="0.8"/>
<line x1="479.10" y1="304.60" x2="479.10" y2="308.20" stroke="#333" stroke-width="0.8"/>
<line x1="508.60" y1="304.60" x2="508.60" y2="308.20" stroke="#333" stroke-width="0.8"/>
<text x="493.90" y="304.40" font-size="6.4" text-anchor="middle" fill="#111" style="stroke-width:0.2px">*</text>
<text x="459.90" y="376.30" font-size="6.2" text-anchor="end" textLength="24.50" lengthAdjust="spacingAndGlyphs" fill="#1a1a1a">GPVI ag:</text>
<text x="459.90" y="386.70" font-size="6.2" text-anchor="end" textLength="18.50" lengthAdjust="spacingAndGlyphs" fill="#1a1a1a">oxLDL:</text>
<text x="466.00" y="376.30" font-size="6.2" text-anchor="middle" fill="#1a1a1a">0</text>
<text x="466.00" y="386.90" font-size="6.3" text-anchor="middle" fill="#1a1a1a">−</text>
<text x="480.20" y="376.30" font-size="6.2" text-anchor="middle" fill="#1a1a1a">0</text>
<text x="480.20" y="387.15" font-size="7.056" text-anchor="middle" fill="#1a1a1a">+</text>
<text x="494.30" y="376.30" font-size="6.2" text-anchor="middle" fill="#1a1a1a">0.5</text>
<text x="494.30" y="386.90" font-size="6.3" text-anchor="middle" fill="#1a1a1a">−</text>
<text x="508.30" y="376.30" font-size="6.2" text-anchor="middle" fill="#1a1a1a">0.5</text>
<text x="508.30" y="387.15" font-size="7.056" text-anchor="middle" fill="#1a1a1a">+</text>
<text x="426.40" y="333.20" font-size="7.2" text-anchor="middle" transform="rotate(-90 426.40 333.20)" textLength="31.20" lengthAdjust="spacingAndGlyphs" fill="#1a1a1a" style="stroke-width:0.3px">Lag time (s)</text>
</svg>
</body></html>
